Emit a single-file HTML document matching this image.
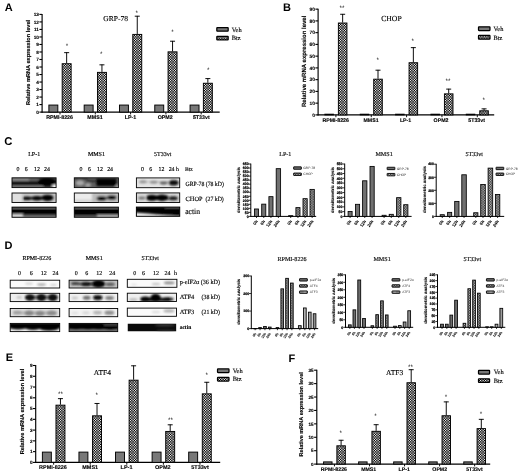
<!DOCTYPE html>
<html lang="en"><head><meta charset="utf-8"><title>Figure</title>
<style>html,body{margin:0;padding:0;background:#fff}svg{display:block}text{text-rendering:geometricPrecision}.ss{font-family:'Liberation Sans', Arial, sans-serif}.sf{font-family:'Liberation Serif', 'Times New Roman', serif;stroke:#000;stroke-width:0.14px}.b{font-weight:bold}</style>
</head><body>
<svg width="520" height="475" viewBox="0 0 520 475">
<defs>
<pattern id="chk" width="5" height="5" patternUnits="userSpaceOnUse"><rect width="5" height="5" fill="#000"/><g fill="#fff"><rect x="0.04" y="0.04" width="1.17" height="1.17"/><rect x="0.04" y="2.54" width="1.17" height="1.17"/><rect x="1.29" y="1.29" width="1.17" height="1.17"/><rect x="1.29" y="3.79" width="1.17" height="1.17"/><rect x="2.54" y="0.04" width="1.17" height="1.17"/><rect x="2.54" y="2.54" width="1.17" height="1.17"/><rect x="3.79" y="1.29" width="1.17" height="1.17"/><rect x="3.79" y="3.79" width="1.17" height="1.17"/></g></pattern>
<pattern id="chk2" width="5" height="5" patternUnits="userSpaceOnUse"><rect width="5" height="5" fill="#000"/><g fill="#fff"><rect x="0" y="0" width="0.83" height="0.83"/><rect x="0" y="1.67" width="0.83" height="0.83"/><rect x="0" y="3.33" width="0.83" height="0.83"/><rect x="0.83" y="0.83" width="0.83" height="0.83"/><rect x="0.83" y="2.5" width="0.83" height="0.83"/><rect x="0.83" y="4.17" width="0.83" height="0.83"/><rect x="1.67" y="0" width="0.83" height="0.83"/><rect x="1.67" y="1.67" width="0.83" height="0.83"/><rect x="1.67" y="3.33" width="0.83" height="0.83"/><rect x="2.5" y="0.83" width="0.83" height="0.83"/><rect x="2.5" y="2.5" width="0.83" height="0.83"/><rect x="2.5" y="4.17" width="0.83" height="0.83"/><rect x="3.33" y="0" width="0.83" height="0.83"/><rect x="3.33" y="1.67" width="0.83" height="0.83"/><rect x="3.33" y="3.33" width="0.83" height="0.83"/><rect x="4.17" y="0.83" width="0.83" height="0.83"/><rect x="4.17" y="2.5" width="0.83" height="0.83"/><rect x="4.17" y="4.17" width="0.83" height="0.83"/></g></pattern>
<pattern id="vl" width="6" height="4" patternUnits="userSpaceOnUse"><rect width="6" height="4" fill="#d8d8d8"/><g fill="#444"><rect x="0" y="0" width="0.5" height="4"/><rect x="1.2" y="0" width="0.5" height="4"/><rect x="2.4" y="0" width="0.5" height="4"/><rect x="3.6" y="0" width="0.5" height="4"/><rect x="4.8" y="0" width="0.5" height="4"/></g></pattern>
<filter id="bl" x="-20%" y="-50%" width="140%" height="200%"><feGaussianBlur stdDeviation="0.9"/></filter>
</defs>
<rect width="520" height="475" fill="#fff"/>
<line x1="42.1" y1="13.9" x2="42.1" y2="112.65" stroke="#000" stroke-width="1.15"/>
<line x1="41.55" y1="112.1" x2="219.7" y2="112.1" stroke="#000" stroke-width="1.15"/>
<line x1="39.4" y1="112.1" x2="42.1" y2="112.1" stroke="#000" stroke-width="1.1"/>
<text class="ss b" x="38.9" y="113.79" font-size="4.7" text-anchor="end" stroke="#000" stroke-width="0.12">0</text>
<line x1="39.4" y1="104.58" x2="42.1" y2="104.58" stroke="#000" stroke-width="1.1"/>
<text class="ss b" x="38.9" y="106.28" font-size="4.7" text-anchor="end" stroke="#000" stroke-width="0.12">1</text>
<line x1="39.4" y1="97.07" x2="42.1" y2="97.07" stroke="#000" stroke-width="1.1"/>
<text class="ss b" x="38.9" y="98.76" font-size="4.7" text-anchor="end" stroke="#000" stroke-width="0.12">2</text>
<line x1="39.4" y1="89.55" x2="42.1" y2="89.55" stroke="#000" stroke-width="1.1"/>
<text class="ss b" x="38.9" y="91.25" font-size="4.7" text-anchor="end" stroke="#000" stroke-width="0.12">3</text>
<line x1="39.4" y1="82.04" x2="42.1" y2="82.04" stroke="#000" stroke-width="1.1"/>
<text class="ss b" x="38.9" y="83.73" font-size="4.7" text-anchor="end" stroke="#000" stroke-width="0.12">4</text>
<line x1="39.4" y1="74.52" x2="42.1" y2="74.52" stroke="#000" stroke-width="1.1"/>
<text class="ss b" x="38.9" y="76.22" font-size="4.7" text-anchor="end" stroke="#000" stroke-width="0.12">5</text>
<line x1="39.4" y1="67.01" x2="42.1" y2="67.01" stroke="#000" stroke-width="1.1"/>
<text class="ss b" x="38.9" y="68.7" font-size="4.7" text-anchor="end" stroke="#000" stroke-width="0.12">6</text>
<line x1="39.4" y1="59.49" x2="42.1" y2="59.49" stroke="#000" stroke-width="1.1"/>
<text class="ss b" x="38.9" y="61.18" font-size="4.7" text-anchor="end" stroke="#000" stroke-width="0.12">7</text>
<line x1="39.4" y1="51.98" x2="42.1" y2="51.98" stroke="#000" stroke-width="1.1"/>
<text class="ss b" x="38.9" y="53.67" font-size="4.7" text-anchor="end" stroke="#000" stroke-width="0.12">8</text>
<line x1="39.4" y1="44.46" x2="42.1" y2="44.46" stroke="#000" stroke-width="1.1"/>
<text class="ss b" x="38.9" y="46.15" font-size="4.7" text-anchor="end" stroke="#000" stroke-width="0.12">9</text>
<line x1="39.4" y1="36.95" x2="42.1" y2="36.95" stroke="#000" stroke-width="1.1"/>
<text class="ss b" x="38.9" y="38.64" font-size="4.7" text-anchor="end" stroke="#000" stroke-width="0.12">10</text>
<line x1="39.4" y1="29.43" x2="42.1" y2="29.43" stroke="#000" stroke-width="1.1"/>
<text class="ss b" x="38.9" y="31.12" font-size="4.7" text-anchor="end" stroke="#000" stroke-width="0.12">11</text>
<line x1="39.4" y1="21.92" x2="42.1" y2="21.92" stroke="#000" stroke-width="1.1"/>
<text class="ss b" x="38.9" y="23.61" font-size="4.7" text-anchor="end" stroke="#000" stroke-width="0.12">12</text>
<line x1="39.4" y1="14.4" x2="42.1" y2="14.4" stroke="#000" stroke-width="1.1"/>
<text class="ss b" x="38.9" y="16.09" font-size="4.7" text-anchor="end" stroke="#000" stroke-width="0.12">13</text>
<text class="ss b" x="29.8" y="62.5" font-size="5.61" text-anchor="middle" transform="rotate(-90 29.8 62.5)" stroke="#000" stroke-width="0.12">Relative mRNA expression level</text>
<rect x="48.88" y="105.06" width="8.95" height="7.04" fill="#787878" stroke="#000" stroke-width="0.95"/>
<rect x="62.18" y="63.73" width="8.95" height="48.37" fill="url(#chk)" stroke="#000" stroke-width="0.95"/>
<line x1="66.65" y1="63.25" x2="66.65" y2="52.35" stroke="#000" stroke-width="0.95"/>
<line x1="64.15" y1="52.65" x2="69.15" y2="52.65" stroke="#000" stroke-width="0.95"/>
<text class="ss" x="66.9" y="48.3" font-size="6.4" text-anchor="middle">*</text>
<line x1="60" y1="112.1" x2="60" y2="114.4" stroke="#000" stroke-width="0.95"/>
<text class="ss b" x="59.6" y="118.9" font-size="5.3" text-anchor="middle" stroke="#000" stroke-width="0.12">RPMI-8226</text>
<rect x="84.17" y="105.06" width="8.95" height="7.04" fill="#787878" stroke="#000" stroke-width="0.95"/>
<rect x="97.47" y="72.37" width="8.95" height="39.73" fill="url(#chk)" stroke="#000" stroke-width="0.95"/>
<line x1="101.95" y1="71.89" x2="101.95" y2="64.53" stroke="#000" stroke-width="0.95"/>
<line x1="99.45" y1="64.83" x2="104.45" y2="64.83" stroke="#000" stroke-width="0.95"/>
<text class="ss" x="101.2" y="56.4" font-size="6.4" text-anchor="middle">*</text>
<line x1="95.3" y1="112.1" x2="95.3" y2="114.4" stroke="#000" stroke-width="0.95"/>
<text class="ss b" x="95" y="118.9" font-size="5.3" text-anchor="middle" stroke="#000" stroke-width="0.12">MMS1</text>
<rect x="119.47" y="105.06" width="8.95" height="7.04" fill="#787878" stroke="#000" stroke-width="0.95"/>
<rect x="132.78" y="34.41" width="8.95" height="77.69" fill="url(#chk)" stroke="#000" stroke-width="0.95"/>
<line x1="137.25" y1="33.94" x2="137.25" y2="15.9" stroke="#000" stroke-width="0.95"/>
<line x1="134.75" y1="16.2" x2="139.75" y2="16.2" stroke="#000" stroke-width="0.95"/>
<text class="ss" x="136.8" y="15" font-size="6.4" text-anchor="middle">*</text>
<line x1="130.6" y1="112.1" x2="130.6" y2="114.4" stroke="#000" stroke-width="0.95"/>
<text class="ss b" x="130.5" y="118.9" font-size="5.3" text-anchor="middle" stroke="#000" stroke-width="0.12">LP-1</text>
<rect x="154.77" y="105.06" width="8.95" height="7.04" fill="#787878" stroke="#000" stroke-width="0.95"/>
<rect x="168.07" y="51.85" width="8.95" height="60.25" fill="url(#chk)" stroke="#000" stroke-width="0.95"/>
<line x1="172.55" y1="51.38" x2="172.55" y2="40.93" stroke="#000" stroke-width="0.95"/>
<line x1="170.05" y1="41.23" x2="175.05" y2="41.23" stroke="#000" stroke-width="0.95"/>
<text class="ss" x="172.4" y="33.9" font-size="6.4" text-anchor="middle">*</text>
<line x1="165.9" y1="112.1" x2="165.9" y2="114.4" stroke="#000" stroke-width="0.95"/>
<text class="ss b" x="165.2" y="118.9" font-size="5.3" text-anchor="middle" stroke="#000" stroke-width="0.12">OPM2</text>
<rect x="190.07" y="105.06" width="8.95" height="7.04" fill="#787878" stroke="#000" stroke-width="0.95"/>
<rect x="203.38" y="83.26" width="8.95" height="28.83" fill="url(#chk)" stroke="#000" stroke-width="0.95"/>
<line x1="207.85" y1="82.79" x2="207.85" y2="78.28" stroke="#000" stroke-width="0.95"/>
<line x1="205.35" y1="78.58" x2="210.35" y2="78.58" stroke="#000" stroke-width="0.95"/>
<text class="ss" x="208.3" y="72.3" font-size="6.4" text-anchor="middle">*</text>
<line x1="201.2" y1="112.1" x2="201.2" y2="114.4" stroke="#000" stroke-width="0.95"/>
<text class="ss b" x="201.3" y="118.9" font-size="5.3" text-anchor="middle" stroke="#000" stroke-width="0.12">5T33vt</text>
<text class="sf" x="103.3" y="21.1" font-size="7.5">GRP-78</text>
<rect x="216.82" y="27.62" width="11.35" height="3.55" fill="#787878" stroke="#000" stroke-width="1.25" rx="0.5"/>
<rect x="216.82" y="36.33" width="11.35" height="3.55" fill="url(#chk)" stroke="#000" stroke-width="1.25" rx="0.5"/>
<text class="sf" x="231.7" y="31.55" font-size="6.4">Veh</text>
<text class="sf" x="231.7" y="40.25" font-size="6.4">Btz</text>
<text class="ss b" x="4.7" y="10.6" font-size="11">A</text>
<line x1="318.1" y1="8.65" x2="318.1" y2="115.45" stroke="#000" stroke-width="1.15"/>
<line x1="317.55" y1="114.9" x2="494.2" y2="114.9" stroke="#000" stroke-width="1.15"/>
<line x1="315.4" y1="114.9" x2="318.1" y2="114.9" stroke="#000" stroke-width="1.1"/>
<text class="ss b" x="314.9" y="116.63" font-size="4.8" text-anchor="end" stroke="#000" stroke-width="0.12">0</text>
<line x1="315.4" y1="103.15" x2="318.1" y2="103.15" stroke="#000" stroke-width="1.1"/>
<text class="ss b" x="314.9" y="104.88" font-size="4.8" text-anchor="end" stroke="#000" stroke-width="0.12">10</text>
<line x1="315.4" y1="91.4" x2="318.1" y2="91.4" stroke="#000" stroke-width="1.1"/>
<text class="ss b" x="314.9" y="93.13" font-size="4.8" text-anchor="end" stroke="#000" stroke-width="0.12">20</text>
<line x1="315.4" y1="79.65" x2="318.1" y2="79.65" stroke="#000" stroke-width="1.1"/>
<text class="ss b" x="314.9" y="81.38" font-size="4.8" text-anchor="end" stroke="#000" stroke-width="0.12">30</text>
<line x1="315.4" y1="67.9" x2="318.1" y2="67.9" stroke="#000" stroke-width="1.1"/>
<text class="ss b" x="314.9" y="69.63" font-size="4.8" text-anchor="end" stroke="#000" stroke-width="0.12">40</text>
<line x1="315.4" y1="56.15" x2="318.1" y2="56.15" stroke="#000" stroke-width="1.1"/>
<text class="ss b" x="314.9" y="57.88" font-size="4.8" text-anchor="end" stroke="#000" stroke-width="0.12">50</text>
<line x1="315.4" y1="44.4" x2="318.1" y2="44.4" stroke="#000" stroke-width="1.1"/>
<text class="ss b" x="314.9" y="46.13" font-size="4.8" text-anchor="end" stroke="#000" stroke-width="0.12">60</text>
<line x1="315.4" y1="32.65" x2="318.1" y2="32.65" stroke="#000" stroke-width="1.1"/>
<text class="ss b" x="314.9" y="34.38" font-size="4.8" text-anchor="end" stroke="#000" stroke-width="0.12">70</text>
<line x1="315.4" y1="20.9" x2="318.1" y2="20.9" stroke="#000" stroke-width="1.1"/>
<text class="ss b" x="314.9" y="22.63" font-size="4.8" text-anchor="end" stroke="#000" stroke-width="0.12">80</text>
<line x1="315.4" y1="9.15" x2="318.1" y2="9.15" stroke="#000" stroke-width="1.1"/>
<text class="ss b" x="314.9" y="10.88" font-size="4.8" text-anchor="end" stroke="#000" stroke-width="0.12">90</text>
<text class="ss b" x="306.4" y="61.3" font-size="6.03" text-anchor="middle" transform="rotate(-90 306.4 61.3)" stroke="#000" stroke-width="0.12">Relative mRNA expression level</text>
<rect x="324.88" y="114.2" width="8.55" height="0.7" fill="#787878" stroke="#000" stroke-width="0.95"/>
<rect x="338.38" y="23.02" width="8.55" height="91.88" fill="url(#chk)" stroke="#000" stroke-width="0.95"/>
<line x1="342.65" y1="22.55" x2="342.65" y2="13.97" stroke="#000" stroke-width="0.95"/>
<line x1="340.15" y1="14.27" x2="345.15" y2="14.27" stroke="#000" stroke-width="0.95"/>
<text class="ss" x="341.9" y="10.3" font-size="6.4" text-anchor="middle">**</text>
<line x1="335.9" y1="114.9" x2="335.9" y2="117.2" stroke="#000" stroke-width="0.95"/>
<text class="ss b" x="335.7" y="122.3" font-size="5.25" text-anchor="middle" stroke="#000" stroke-width="0.12">RPMI-8226</text>
<rect x="360.23" y="114.2" width="8.55" height="0.7" fill="#787878" stroke="#000" stroke-width="0.95"/>
<rect x="373.73" y="79.19" width="8.55" height="35.72" fill="url(#chk)" stroke="#000" stroke-width="0.95"/>
<line x1="378" y1="78.71" x2="378" y2="69.9" stroke="#000" stroke-width="0.95"/>
<line x1="375.5" y1="70.2" x2="380.5" y2="70.2" stroke="#000" stroke-width="0.95"/>
<text class="ss" x="377.7" y="62.2" font-size="6.4" text-anchor="middle">*</text>
<line x1="371.25" y1="114.9" x2="371.25" y2="117.2" stroke="#000" stroke-width="0.95"/>
<text class="ss b" x="371" y="122.3" font-size="5.25" text-anchor="middle" stroke="#000" stroke-width="0.12">MMS1</text>
<rect x="395.57" y="114.2" width="8.55" height="0.7" fill="#787878" stroke="#000" stroke-width="0.95"/>
<rect x="409.07" y="62.74" width="8.55" height="52.16" fill="url(#chk)" stroke="#000" stroke-width="0.95"/>
<line x1="413.35" y1="62.26" x2="413.35" y2="47.34" stroke="#000" stroke-width="0.95"/>
<line x1="410.85" y1="47.64" x2="415.85" y2="47.64" stroke="#000" stroke-width="0.95"/>
<text class="ss" x="412.7" y="43.2" font-size="6.4" text-anchor="middle">*</text>
<line x1="406.6" y1="114.9" x2="406.6" y2="117.2" stroke="#000" stroke-width="0.95"/>
<text class="ss b" x="405.6" y="122.3" font-size="5.25" text-anchor="middle" stroke="#000" stroke-width="0.12">LP-1</text>
<rect x="430.93" y="114.2" width="8.55" height="0.7" fill="#787878" stroke="#000" stroke-width="0.95"/>
<rect x="444.43" y="93.87" width="8.55" height="21.03" fill="url(#chk)" stroke="#000" stroke-width="0.95"/>
<line x1="448.7" y1="93.4" x2="448.7" y2="88.81" stroke="#000" stroke-width="0.95"/>
<line x1="446.2" y1="89.11" x2="451.2" y2="89.11" stroke="#000" stroke-width="0.95"/>
<text class="ss" x="448" y="82.6" font-size="6.4" text-anchor="middle">**</text>
<line x1="441.95" y1="114.9" x2="441.95" y2="117.2" stroke="#000" stroke-width="0.95"/>
<text class="ss b" x="441" y="122.3" font-size="5.25" text-anchor="middle" stroke="#000" stroke-width="0.12">OPM2</text>
<rect x="466.27" y="114.2" width="8.55" height="0.7" fill="#787878" stroke="#000" stroke-width="0.95"/>
<rect x="479.77" y="110.79" width="8.55" height="4.11" fill="url(#chk)" stroke="#000" stroke-width="0.95"/>
<line x1="484.05" y1="110.32" x2="484.05" y2="108.56" stroke="#000" stroke-width="0.95"/>
<line x1="481.55" y1="108.86" x2="486.55" y2="108.86" stroke="#000" stroke-width="0.95"/>
<text class="ss" x="483.8" y="102.1" font-size="6.4" text-anchor="middle">*</text>
<line x1="477.3" y1="114.9" x2="477.3" y2="117.2" stroke="#000" stroke-width="0.95"/>
<text class="ss b" x="476.6" y="122.3" font-size="5.25" text-anchor="middle" stroke="#000" stroke-width="0.12">5T33vt</text>
<text class="sf" x="381.2" y="20.8" font-size="7.7">CHOP</text>
<rect x="478.52" y="26.82" width="11.45" height="3.75" fill="#787878" stroke="#000" stroke-width="1.25" rx="0.5"/>
<rect x="478.52" y="35.42" width="11.45" height="3.75" fill="url(#chk)" stroke="#000" stroke-width="1.25" rx="0.5"/>
<text class="sf" x="493.4" y="30.95" font-size="6.4">Veh</text>
<text class="sf" x="493.4" y="39.55" font-size="6.4">Btz</text>
<text class="ss b" x="283" y="11.4" font-size="11">B</text>
<line x1="35.7" y1="365" x2="35.7" y2="462.95" stroke="#000" stroke-width="1.15"/>
<line x1="35.15" y1="462.4" x2="220.2" y2="462.4" stroke="#000" stroke-width="1.15"/>
<line x1="33" y1="462.4" x2="35.7" y2="462.4" stroke="#000" stroke-width="1.1"/>
<text class="ss b" x="32.5" y="464.09" font-size="4.7" text-anchor="end" stroke="#000" stroke-width="0.12">0</text>
<line x1="33" y1="451.63" x2="35.7" y2="451.63" stroke="#000" stroke-width="1.1"/>
<text class="ss b" x="32.5" y="453.33" font-size="4.7" text-anchor="end" stroke="#000" stroke-width="0.12">1</text>
<line x1="33" y1="440.87" x2="35.7" y2="440.87" stroke="#000" stroke-width="1.1"/>
<text class="ss b" x="32.5" y="442.56" font-size="4.7" text-anchor="end" stroke="#000" stroke-width="0.12">2</text>
<line x1="33" y1="430.1" x2="35.7" y2="430.1" stroke="#000" stroke-width="1.1"/>
<text class="ss b" x="32.5" y="431.79" font-size="4.7" text-anchor="end" stroke="#000" stroke-width="0.12">3</text>
<line x1="33" y1="419.33" x2="35.7" y2="419.33" stroke="#000" stroke-width="1.1"/>
<text class="ss b" x="32.5" y="421.03" font-size="4.7" text-anchor="end" stroke="#000" stroke-width="0.12">4</text>
<line x1="33" y1="408.57" x2="35.7" y2="408.57" stroke="#000" stroke-width="1.1"/>
<text class="ss b" x="32.5" y="410.26" font-size="4.7" text-anchor="end" stroke="#000" stroke-width="0.12">5</text>
<line x1="33" y1="397.8" x2="35.7" y2="397.8" stroke="#000" stroke-width="1.1"/>
<text class="ss b" x="32.5" y="399.49" font-size="4.7" text-anchor="end" stroke="#000" stroke-width="0.12">6</text>
<line x1="33" y1="387.03" x2="35.7" y2="387.03" stroke="#000" stroke-width="1.1"/>
<text class="ss b" x="32.5" y="388.73" font-size="4.7" text-anchor="end" stroke="#000" stroke-width="0.12">7</text>
<line x1="33" y1="376.27" x2="35.7" y2="376.27" stroke="#000" stroke-width="1.1"/>
<text class="ss b" x="32.5" y="377.96" font-size="4.7" text-anchor="end" stroke="#000" stroke-width="0.12">8</text>
<line x1="33" y1="365.5" x2="35.7" y2="365.5" stroke="#000" stroke-width="1.1"/>
<text class="ss b" x="32.5" y="367.19" font-size="4.7" text-anchor="end" stroke="#000" stroke-width="0.12">9</text>
<text class="ss b" x="24.1" y="411.5" font-size="5.63" text-anchor="middle" transform="rotate(-90 24.1 411.5)" stroke="#000" stroke-width="0.12">Relative mRNA expression level</text>
<rect x="42.38" y="452.11" width="8.95" height="10.29" fill="#787878" stroke="#000" stroke-width="0.95"/>
<rect x="55.98" y="405.17" width="8.95" height="57.23" fill="url(#chk)" stroke="#000" stroke-width="0.95"/>
<line x1="60.45" y1="404.69" x2="60.45" y2="398.34" stroke="#000" stroke-width="0.95"/>
<line x1="57.95" y1="398.64" x2="62.95" y2="398.64" stroke="#000" stroke-width="0.95"/>
<text class="ss" x="60.6" y="396.4" font-size="6.4" text-anchor="middle">**</text>
<line x1="53.65" y1="462.4" x2="53.65" y2="464.7" stroke="#000" stroke-width="0.95"/>
<text class="ss b" x="53" y="469.2" font-size="5.5" text-anchor="middle" stroke="#000" stroke-width="0.12">RPMI-8226</text>
<rect x="78.95" y="452.11" width="8.95" height="10.29" fill="#787878" stroke="#000" stroke-width="0.95"/>
<rect x="92.55" y="415.82" width="8.95" height="46.58" fill="url(#chk)" stroke="#000" stroke-width="0.95"/>
<line x1="97.03" y1="415.35" x2="97.03" y2="403.18" stroke="#000" stroke-width="0.95"/>
<line x1="94.53" y1="403.48" x2="99.53" y2="403.48" stroke="#000" stroke-width="0.95"/>
<text class="ss" x="96.8" y="396.7" font-size="6.4" text-anchor="middle">*</text>
<line x1="90.23" y1="462.4" x2="90.23" y2="464.7" stroke="#000" stroke-width="0.95"/>
<text class="ss b" x="90.2" y="469.2" font-size="5.5" text-anchor="middle" stroke="#000" stroke-width="0.12">MMS1</text>
<rect x="115.53" y="452.11" width="8.95" height="10.29" fill="#787878" stroke="#000" stroke-width="0.95"/>
<rect x="129.13" y="380.19" width="8.95" height="82.21" fill="url(#chk)" stroke="#000" stroke-width="0.95"/>
<line x1="133.61" y1="379.71" x2="133.61" y2="365.5" stroke="#000" stroke-width="0.95"/>
<line x1="131.11" y1="365.8" x2="136.11" y2="365.8" stroke="#000" stroke-width="0.95"/>
<line x1="126.81" y1="462.4" x2="126.81" y2="464.7" stroke="#000" stroke-width="0.95"/>
<text class="ss b" x="126.5" y="469.2" font-size="5.5" text-anchor="middle" stroke="#000" stroke-width="0.12">LP-1</text>
<rect x="152.11" y="452.11" width="8.95" height="10.29" fill="#787878" stroke="#000" stroke-width="0.95"/>
<rect x="165.71" y="431.44" width="8.95" height="30.96" fill="url(#chk)" stroke="#000" stroke-width="0.95"/>
<line x1="170.19" y1="430.96" x2="170.19" y2="424.5" stroke="#000" stroke-width="0.95"/>
<line x1="167.69" y1="424.8" x2="172.69" y2="424.8" stroke="#000" stroke-width="0.95"/>
<text class="ss" x="170.4" y="422.3" font-size="6.4" text-anchor="middle">**</text>
<line x1="163.39" y1="462.4" x2="163.39" y2="464.7" stroke="#000" stroke-width="0.95"/>
<text class="ss b" x="162.8" y="469.2" font-size="5.5" text-anchor="middle" stroke="#000" stroke-width="0.12">OPM2</text>
<rect x="188.69" y="452.11" width="8.95" height="10.29" fill="#787878" stroke="#000" stroke-width="0.95"/>
<rect x="202.29" y="393.86" width="8.95" height="68.54" fill="url(#chk)" stroke="#000" stroke-width="0.95"/>
<line x1="206.77" y1="393.39" x2="206.77" y2="381.97" stroke="#000" stroke-width="0.95"/>
<line x1="204.27" y1="382.27" x2="209.27" y2="382.27" stroke="#000" stroke-width="0.95"/>
<text class="ss" x="206.8" y="377.1" font-size="6.4" text-anchor="middle">*</text>
<line x1="199.97" y1="462.4" x2="199.97" y2="464.7" stroke="#000" stroke-width="0.95"/>
<text class="ss b" x="200" y="469.2" font-size="5.5" text-anchor="middle" stroke="#000" stroke-width="0.12">5T33vt</text>
<text class="sf" x="93.8" y="374.6" font-size="7.5">ATF4</text>
<rect x="217.53" y="368.93" width="11.45" height="3.65" fill="#787878" stroke="#000" stroke-width="1.25" rx="0.5"/>
<rect x="217.53" y="377.43" width="11.45" height="3.65" fill="url(#chk)" stroke="#000" stroke-width="1.25" rx="0.5"/>
<text class="sf" x="232.7" y="372.95" font-size="6.4">Veh</text>
<text class="sf" x="232.7" y="381.45" font-size="6.4">Btz</text>
<text class="ss b" x="5.7" y="360.8" font-size="11">E</text>
<line x1="316.8" y1="369.7" x2="316.8" y2="464.65" stroke="#000" stroke-width="1.15"/>
<line x1="316.25" y1="464.1" x2="490.2" y2="464.1" stroke="#000" stroke-width="1.15"/>
<line x1="314.1" y1="464.1" x2="316.8" y2="464.1" stroke="#000" stroke-width="1.1"/>
<text class="ss b" x="313.6" y="465.76" font-size="4.6" text-anchor="end" stroke="#000" stroke-width="0.12">0</text>
<line x1="314.1" y1="450.69" x2="316.8" y2="450.69" stroke="#000" stroke-width="1.1"/>
<text class="ss b" x="313.6" y="452.34" font-size="4.6" text-anchor="end" stroke="#000" stroke-width="0.12">5</text>
<line x1="314.1" y1="437.27" x2="316.8" y2="437.27" stroke="#000" stroke-width="1.1"/>
<text class="ss b" x="313.6" y="438.93" font-size="4.6" text-anchor="end" stroke="#000" stroke-width="0.12">10</text>
<line x1="314.1" y1="423.86" x2="316.8" y2="423.86" stroke="#000" stroke-width="1.1"/>
<text class="ss b" x="313.6" y="425.51" font-size="4.6" text-anchor="end" stroke="#000" stroke-width="0.12">15</text>
<line x1="314.1" y1="410.44" x2="316.8" y2="410.44" stroke="#000" stroke-width="1.1"/>
<text class="ss b" x="313.6" y="412.1" font-size="4.6" text-anchor="end" stroke="#000" stroke-width="0.12">20</text>
<line x1="314.1" y1="397.03" x2="316.8" y2="397.03" stroke="#000" stroke-width="1.1"/>
<text class="ss b" x="313.6" y="398.68" font-size="4.6" text-anchor="end" stroke="#000" stroke-width="0.12">25</text>
<line x1="314.1" y1="383.61" x2="316.8" y2="383.61" stroke="#000" stroke-width="1.1"/>
<text class="ss b" x="313.6" y="385.27" font-size="4.6" text-anchor="end" stroke="#000" stroke-width="0.12">30</text>
<line x1="314.1" y1="370.2" x2="316.8" y2="370.2" stroke="#000" stroke-width="1.1"/>
<text class="ss b" x="313.6" y="371.86" font-size="4.6" text-anchor="end" stroke="#000" stroke-width="0.12">35</text>
<text class="ss b" x="302.9" y="414.3" font-size="5.55" text-anchor="middle" transform="rotate(-90 302.9 414.3)" stroke="#000" stroke-width="0.12">Relative mRNA expression level</text>
<rect x="323.58" y="461.89" width="8.45" height="2.21" fill="#787878" stroke="#000" stroke-width="0.95"/>
<rect x="336.88" y="445.8" width="8.45" height="18.31" fill="url(#chk)" stroke="#000" stroke-width="0.95"/>
<line x1="341.1" y1="445.32" x2="341.1" y2="439.95" stroke="#000" stroke-width="0.95"/>
<line x1="338.6" y1="440.25" x2="343.6" y2="440.25" stroke="#000" stroke-width="0.95"/>
<text class="ss" x="340.8" y="434.8" font-size="6.4" text-anchor="middle">*</text>
<line x1="334.45" y1="464.1" x2="334.45" y2="466.4" stroke="#000" stroke-width="0.95"/>
<text class="ss b" x="333.8" y="470.8" font-size="5.2" text-anchor="middle" stroke="#000" stroke-width="0.12">RPMI-8226</text>
<rect x="358.63" y="461.89" width="8.45" height="2.21" fill="#787878" stroke="#000" stroke-width="0.95"/>
<rect x="371.93" y="431.31" width="8.45" height="32.79" fill="url(#chk)" stroke="#000" stroke-width="0.95"/>
<line x1="376.15" y1="430.83" x2="376.15" y2="424.39" stroke="#000" stroke-width="0.95"/>
<line x1="373.65" y1="424.69" x2="378.65" y2="424.69" stroke="#000" stroke-width="0.95"/>
<text class="ss" x="375.6" y="418.3" font-size="6.4" text-anchor="middle">*</text>
<line x1="369.5" y1="464.1" x2="369.5" y2="466.4" stroke="#000" stroke-width="0.95"/>
<text class="ss b" x="368.7" y="470.8" font-size="5.2" text-anchor="middle" stroke="#000" stroke-width="0.12">MMS1</text>
<rect x="393.68" y="461.89" width="8.45" height="2.21" fill="#787878" stroke="#000" stroke-width="0.95"/>
<rect x="406.98" y="382.75" width="8.45" height="81.35" fill="url(#chk)" stroke="#000" stroke-width="0.95"/>
<line x1="411.2" y1="382.27" x2="411.2" y2="369.4" stroke="#000" stroke-width="0.95"/>
<line x1="408.7" y1="369.7" x2="413.7" y2="369.7" stroke="#000" stroke-width="0.95"/>
<text class="ss" x="410.6" y="368.6" font-size="6.4" text-anchor="middle">**</text>
<line x1="404.55" y1="464.1" x2="404.55" y2="466.4" stroke="#000" stroke-width="0.95"/>
<text class="ss b" x="404.2" y="470.8" font-size="5.2" text-anchor="middle" stroke="#000" stroke-width="0.12">LP-1</text>
<rect x="428.73" y="461.89" width="8.45" height="2.21" fill="#787878" stroke="#000" stroke-width="0.95"/>
<rect x="442.03" y="415.75" width="8.45" height="48.35" fill="url(#chk)" stroke="#000" stroke-width="0.95"/>
<line x1="446.25" y1="415.27" x2="446.25" y2="401.59" stroke="#000" stroke-width="0.95"/>
<line x1="443.75" y1="401.89" x2="448.75" y2="401.89" stroke="#000" stroke-width="0.95"/>
<text class="ss" x="446" y="399" font-size="6.4" text-anchor="middle">*</text>
<line x1="439.6" y1="464.1" x2="439.6" y2="466.4" stroke="#000" stroke-width="0.95"/>
<text class="ss b" x="439.7" y="470.8" font-size="5.2" text-anchor="middle" stroke="#000" stroke-width="0.12">OPM2</text>
<rect x="463.78" y="461.89" width="8.45" height="2.21" fill="#787878" stroke="#000" stroke-width="0.95"/>
<rect x="477.08" y="428.62" width="8.45" height="35.48" fill="url(#chk)" stroke="#000" stroke-width="0.95"/>
<line x1="481.3" y1="428.15" x2="481.3" y2="419.03" stroke="#000" stroke-width="0.95"/>
<line x1="478.8" y1="419.33" x2="483.8" y2="419.33" stroke="#000" stroke-width="0.95"/>
<text class="ss" x="481" y="415.5" font-size="6.4" text-anchor="middle">*</text>
<line x1="474.65" y1="464.1" x2="474.65" y2="466.4" stroke="#000" stroke-width="0.95"/>
<text class="ss b" x="474.4" y="470.8" font-size="5.2" text-anchor="middle" stroke="#000" stroke-width="0.12">5T33vt</text>
<text class="sf" x="386.1" y="374.6" font-size="7.5">ATF3</text>
<rect x="478.52" y="370.43" width="11.05" height="3.65" fill="#787878" stroke="#000" stroke-width="1.25" rx="0.5"/>
<rect x="478.52" y="378.82" width="11.05" height="3.65" fill="url(#chk)" stroke="#000" stroke-width="1.25" rx="0.5"/>
<text class="sf" x="493.7" y="374.45" font-size="6.4">Veh</text>
<text class="sf" x="493.7" y="382.85" font-size="6.4">Btz</text>
<text class="ss b" x="288.6" y="361.5" font-size="11">F</text>
<text class="ss b" x="4.2" y="145.1" font-size="11.3">C</text>
<text class="sf" x="34.2" y="156" font-size="6" text-anchor="middle">LP-1</text>
<text class="sf" x="96.4" y="156" font-size="6" text-anchor="middle">MMS1</text>
<text class="sf" x="162.8" y="156.1" font-size="6.05" text-anchor="middle">5T33vt</text>
<text class="sf" x="18" y="171.3" font-size="5.9" text-anchor="middle">0</text>
<text class="sf" x="26.3" y="171.3" font-size="5.9" text-anchor="middle">6</text>
<text class="sf" x="36.9" y="171.3" font-size="5.9" text-anchor="middle">12</text>
<text class="sf" x="47" y="171.3" font-size="5.9" text-anchor="middle">24</text>
<text class="sf" x="81.1" y="171.3" font-size="5.9" text-anchor="middle">0</text>
<text class="sf" x="89.4" y="171.3" font-size="5.9" text-anchor="middle">6</text>
<text class="sf" x="100" y="171.3" font-size="5.9" text-anchor="middle">12</text>
<text class="sf" x="110.1" y="171.3" font-size="5.9" text-anchor="middle">24</text>
<text class="sf" x="142.4" y="171.3" font-size="5.9" text-anchor="middle">0</text>
<text class="sf" x="150.7" y="171.3" font-size="5.9" text-anchor="middle">6</text>
<text class="sf" x="161.5" y="171.3" font-size="5.9" text-anchor="middle">12</text>
<text class="sf" x="173.8" y="171.3" font-size="5.9" text-anchor="middle">24 h</text>
<text class="sf" x="185" y="171.3" font-size="5.7">Btz</text>
<text class="sf" x="185.5" y="186" font-size="6.4" textLength="38.3" lengthAdjust="spacingAndGlyphs">GRP-78 (78 kD)</text>
<text class="sf" x="185.5" y="200.5" font-size="6.4">CHOP</text>
<text class="sf" x="205.6" y="200.5" font-size="6.4" textLength="18.2" lengthAdjust="spacingAndGlyphs">(27 kD)</text>
<text class="sf" x="185.2" y="213.9" font-size="8.2" textLength="14.9" lengthAdjust="spacingAndGlyphs">actin</text>
<clipPath id="c1"><rect x="12" y="177.8" width="44.1" height="9.8"/></clipPath>
<g clip-path="url(#c1)">
<rect x="12" y="177.8" width="44.1" height="9.8" fill="#454545"/>
<g filter="url(#bl)">
<rect x="11" y="178.2" width="18" height="2" fill="#a8a8a8" opacity="1"/>
<rect x="29" y="178.2" width="9" height="1.4" fill="#808080" opacity="0.9"/>
<rect x="11" y="181.6" width="46" height="3.4" fill="#0c0c0c" opacity="1"/>
<ellipse cx="47" cy="182" rx="9" ry="4.2" fill="#000" opacity="1"/>
<rect x="11" y="186" width="32" height="1.8" fill="#858585" opacity="1"/>
<ellipse cx="55.3" cy="186.8" rx="3.2" ry="2.2" fill="#fff" opacity="1"/>
</g></g>
<rect x="12" y="177.8" width="44.1" height="9.8" fill="none" stroke="#000" stroke-width="0.9"/>
<clipPath id="c2"><rect x="12" y="193" width="44.1" height="9.5"/></clipPath>
<g clip-path="url(#c2)">
<rect x="12" y="193" width="44.1" height="9.5" fill="#c6c6c6"/>
<g filter="url(#bl)">
<rect x="11" y="192" width="11" height="11" fill="#e0e0e0" opacity="1"/>
<ellipse cx="27" cy="198.2" rx="4.6" ry="1.8" fill="#0a0a0a" opacity="1"/>
<ellipse cx="37" cy="198.3" rx="5" ry="2.2" fill="#000" opacity="1"/>
<ellipse cx="47.5" cy="197.8" rx="6" ry="3.1" fill="#000" opacity="1"/>
<rect x="24" y="197" width="25" height="2.2" fill="#000" opacity="0.9"/>
</g></g>
<rect x="12" y="193" width="44.1" height="9.5" fill="none" stroke="#000" stroke-width="0.9"/>
<clipPath id="c3"><rect x="12" y="207.1" width="44.1" height="10.2"/></clipPath>
<g clip-path="url(#c3)">
<rect x="12" y="207.1" width="44.1" height="10.2" fill="#080808"/>
<g filter="url(#bl)">
<rect x="11" y="207.3" width="46" height="0.6" fill="#eee" opacity="0.9"/>
<rect x="11" y="214.4" width="12" height="3.2" fill="#f4f4f4" opacity="1"/>
<rect x="23" y="215.8" width="34" height="1.8" fill="#d0d0d0" opacity="1"/>
<rect x="11" y="208.6" width="46" height="5.2" fill="#000" opacity="1"/>
</g></g>
<rect x="12" y="207.1" width="44.1" height="10.2" fill="none" stroke="#000" stroke-width="0.9"/>
<clipPath id="c4"><rect x="74.3" y="177.8" width="44.1" height="9.8"/></clipPath>
<g clip-path="url(#c4)">
<rect x="74.3" y="177.8" width="44.1" height="9.8" fill="#5e5e5e"/>
<g filter="url(#bl)">
<ellipse cx="80" cy="183" rx="4.2" ry="2.8" fill="#a8a8a8" opacity="1"/>
<ellipse cx="88" cy="185" rx="3" ry="1.8" fill="#b4b4b4" opacity="0.9"/>
<rect x="74" y="178" width="14" height="1.6" fill="#2a2a2a" opacity="1"/>
<rect x="87" y="180.2" width="10" height="2" fill="#222" opacity="0.9"/>
<rect x="96.5" y="178.5" width="20" height="7.5" fill="#050505" opacity="1"/>
<ellipse cx="117.6" cy="186.6" rx="2.2" ry="1.6" fill="#aaa" opacity="1"/>
</g></g>
<rect x="74.3" y="177.8" width="44.1" height="9.8" fill="none" stroke="#000" stroke-width="0.9"/>
<clipPath id="c5"><rect x="74.3" y="193" width="44.1" height="9.5"/></clipPath>
<g clip-path="url(#c5)">
<rect x="74.3" y="193" width="44.1" height="9.5" fill="#ececec"/>
<g filter="url(#bl)">
<rect x="92" y="193" width="27" height="10" fill="#bebebe" opacity="1"/>
<ellipse cx="101.6" cy="198.6" rx="5" ry="2.3" fill="#000" opacity="1"/>
<ellipse cx="111.8" cy="197.6" rx="4.8" ry="2.3" fill="#000" opacity="1"/>
<rect x="98" y="197.4" width="16" height="1.6" fill="#000" opacity="0.7"/>
<rect x="74" y="200" width="22" height="1.6" fill="#bbb" opacity="0.8"/>
</g></g>
<rect x="74.3" y="193" width="44.1" height="9.5" fill="none" stroke="#000" stroke-width="0.9"/>
<clipPath id="c6"><rect x="74.3" y="207.1" width="44.1" height="10.2"/></clipPath>
<g clip-path="url(#c6)">
<rect x="74.3" y="207.1" width="44.1" height="10.2" fill="#080808"/>
<g filter="url(#bl)">
<rect x="74" y="207.3" width="46" height="0.6" fill="#eee" opacity="0.9"/>
<rect x="74" y="208.6" width="46" height="5.4" fill="#000" opacity="1"/>
<rect x="97" y="215.2" width="22" height="2.4" fill="#f0f0f0" opacity="1"/>
<rect x="74" y="216" width="23" height="1.6" fill="#aaa" opacity="1"/>
</g></g>
<rect x="74.3" y="207.1" width="44.1" height="10.2" fill="none" stroke="#000" stroke-width="0.9"/>
<clipPath id="c7"><rect x="136.4" y="177.9" width="43.3" height="9.8"/></clipPath>
<g clip-path="url(#c7)">
<rect x="136.4" y="177.9" width="43.3" height="9.8" fill="#e4e4e4"/>
<g filter="url(#bl)">
<ellipse cx="143" cy="181.8" rx="3.8" ry="1.5" fill="#8c8c8c" opacity="1"/>
<ellipse cx="153.8" cy="182.2" rx="3.9" ry="1.4" fill="#808080" opacity="1"/>
<ellipse cx="163.7" cy="183" rx="4" ry="1.4" fill="#444" opacity="1"/>
<ellipse cx="173.6" cy="182.8" rx="5" ry="2.8" fill="#080808" opacity="1"/>
<rect x="140" y="181.2" width="30" height="1.4" fill="#999" opacity="0.5"/>
</g></g>
<rect x="136.4" y="177.9" width="43.3" height="9.8" fill="none" stroke="#000" stroke-width="0.9"/>
<clipPath id="c8"><rect x="136.4" y="192.9" width="43.3" height="9.6"/></clipPath>
<g clip-path="url(#c8)">
<rect x="136.4" y="192.9" width="43.3" height="9.6" fill="#d8d8d8"/>
<g filter="url(#bl)">
<ellipse cx="141.8" cy="198" rx="3.6" ry="1.3" fill="#666" opacity="1"/>
<ellipse cx="152" cy="197.8" rx="5.6" ry="3" fill="#000" opacity="1"/>
<ellipse cx="162" cy="197.8" rx="5.8" ry="3.2" fill="#000" opacity="1"/>
<ellipse cx="173.2" cy="198.3" rx="4.6" ry="2" fill="#181818" opacity="1"/>
<rect x="147" y="195.6" width="21" height="4.4" fill="#000" opacity="1"/>
</g></g>
<rect x="136.4" y="192.9" width="43.3" height="9.6" fill="none" stroke="#000" stroke-width="0.9"/>
<clipPath id="c9"><rect x="136.4" y="207.1" width="43.3" height="9.2"/></clipPath>
<g clip-path="url(#c9)">
<rect x="136.4" y="207.1" width="43.3" height="9.2" fill="#f2f2f2"/>
<g filter="url(#bl)">
<polygon points="135,206.5 181,206.5 181,216.5 170,215.6 158,214.6 148,213.4 135,212.4" fill="#000" opacity="1"/>
<rect x="165" y="207.2" width="16" height="1" fill="#888" opacity="0.8"/>
<ellipse cx="170" cy="216.6" rx="12" ry="1" fill="#999" opacity="0.8"/>
</g></g>
<rect x="136.4" y="207.1" width="43.3" height="9.2" fill="none" stroke="#000" stroke-width="1"/>
<line x1="250.8" y1="163.6" x2="250.8" y2="216.9" stroke="#000" stroke-width="1"/>
<line x1="250.4" y1="216.4" x2="316.2" y2="216.4" stroke="#000" stroke-width="1"/>
<line x1="248.6" y1="216.4" x2="250.8" y2="216.4" stroke="#000" stroke-width="0.8"/>
<text class="ss b" x="248.6" y="217.65" font-size="3.5" text-anchor="end" stroke="#000" stroke-width="0.22">0</text>
<line x1="248.6" y1="212.37" x2="250.8" y2="212.37" stroke="#000" stroke-width="0.8"/>
<text class="ss b" x="248.6" y="213.62" font-size="3.5" text-anchor="end" stroke="#000" stroke-width="0.22">50</text>
<line x1="248.6" y1="208.34" x2="250.8" y2="208.34" stroke="#000" stroke-width="0.8"/>
<text class="ss b" x="248.6" y="209.59" font-size="3.5" text-anchor="end" stroke="#000" stroke-width="0.22">100</text>
<line x1="248.6" y1="204.31" x2="250.8" y2="204.31" stroke="#000" stroke-width="0.8"/>
<text class="ss b" x="248.6" y="205.56" font-size="3.5" text-anchor="end" stroke="#000" stroke-width="0.22">150</text>
<line x1="248.6" y1="200.28" x2="250.8" y2="200.28" stroke="#000" stroke-width="0.8"/>
<text class="ss b" x="248.6" y="201.53" font-size="3.5" text-anchor="end" stroke="#000" stroke-width="0.22">200</text>
<line x1="248.6" y1="196.25" x2="250.8" y2="196.25" stroke="#000" stroke-width="0.8"/>
<text class="ss b" x="248.6" y="197.5" font-size="3.5" text-anchor="end" stroke="#000" stroke-width="0.22">250</text>
<line x1="248.6" y1="192.22" x2="250.8" y2="192.22" stroke="#000" stroke-width="0.8"/>
<text class="ss b" x="248.6" y="193.47" font-size="3.5" text-anchor="end" stroke="#000" stroke-width="0.22">300</text>
<line x1="248.6" y1="188.18" x2="250.8" y2="188.18" stroke="#000" stroke-width="0.8"/>
<text class="ss b" x="248.6" y="189.43" font-size="3.5" text-anchor="end" stroke="#000" stroke-width="0.22">350</text>
<line x1="248.6" y1="184.15" x2="250.8" y2="184.15" stroke="#000" stroke-width="0.8"/>
<text class="ss b" x="248.6" y="185.4" font-size="3.5" text-anchor="end" stroke="#000" stroke-width="0.22">400</text>
<line x1="248.6" y1="180.12" x2="250.8" y2="180.12" stroke="#000" stroke-width="0.8"/>
<text class="ss b" x="248.6" y="181.37" font-size="3.5" text-anchor="end" stroke="#000" stroke-width="0.22">450</text>
<line x1="248.6" y1="176.09" x2="250.8" y2="176.09" stroke="#000" stroke-width="0.8"/>
<text class="ss b" x="248.6" y="177.34" font-size="3.5" text-anchor="end" stroke="#000" stroke-width="0.22">500</text>
<line x1="248.6" y1="172.06" x2="250.8" y2="172.06" stroke="#000" stroke-width="0.8"/>
<text class="ss b" x="248.6" y="173.31" font-size="3.5" text-anchor="end" stroke="#000" stroke-width="0.22">550</text>
<line x1="248.6" y1="168.03" x2="250.8" y2="168.03" stroke="#000" stroke-width="0.8"/>
<text class="ss b" x="248.6" y="169.28" font-size="3.5" text-anchor="end" stroke="#000" stroke-width="0.22">600</text>
<line x1="248.6" y1="164" x2="250.8" y2="164" stroke="#000" stroke-width="0.8"/>
<text class="ss b" x="248.6" y="165.25" font-size="3.5" text-anchor="end" stroke="#000" stroke-width="0.22">650</text>
<text class="ss b" x="239.7" y="190" font-size="4.3" text-anchor="middle" transform="rotate(-90 239.7 190)" textLength="46" lengthAdjust="spacingAndGlyphs" stroke="#000" stroke-width="0.08">densitometric analysis</text>
<rect x="254.5" y="208.98" width="4" height="7.42" fill="#707070" stroke="#000" stroke-width="0.85"/>
<line x1="256.5" y1="216.4" x2="256.5" y2="218" stroke="#000" stroke-width="0.8"/>
<text class="ss b" x="258" y="221.4" font-size="4.2" text-anchor="end" transform="rotate(-55 258 221.4)" stroke="#000" stroke-width="0.08">0h</text>
<rect x="261.7" y="204.14" width="4.1" height="12.26" fill="#707070" stroke="#000" stroke-width="0.85"/>
<line x1="263.75" y1="216.4" x2="263.75" y2="218" stroke="#000" stroke-width="0.8"/>
<text class="ss b" x="265.25" y="221.4" font-size="4.2" text-anchor="end" transform="rotate(-55 265.25 221.4)" stroke="#000" stroke-width="0.08">6h</text>
<rect x="268.9" y="196.65" width="4.1" height="19.75" fill="#707070" stroke="#000" stroke-width="0.85"/>
<line x1="270.95" y1="216.4" x2="270.95" y2="218" stroke="#000" stroke-width="0.8"/>
<text class="ss b" x="272.45" y="221.4" font-size="4.2" text-anchor="end" transform="rotate(-55 272.45 221.4)" stroke="#000" stroke-width="0.08">12h</text>
<rect x="276.2" y="168.67" width="4.4" height="47.73" fill="#707070" stroke="#000" stroke-width="0.85"/>
<line x1="278.4" y1="216.4" x2="278.4" y2="218" stroke="#000" stroke-width="0.8"/>
<text class="ss b" x="279.9" y="221.4" font-size="4.2" text-anchor="end" transform="rotate(-55 279.9 221.4)" stroke="#000" stroke-width="0.08">24h</text>
<rect x="288.6" y="215.67" width="4.2" height="0.73" fill="url(#chk2)" stroke="#000" stroke-width="0.85"/>
<line x1="290.7" y1="216.4" x2="290.7" y2="218" stroke="#000" stroke-width="0.8"/>
<text class="ss b" x="292.2" y="221.4" font-size="4.2" text-anchor="end" transform="rotate(-55 292.2 221.4)" stroke="#000" stroke-width="0.08">0h</text>
<rect x="295.9" y="207.61" width="4.1" height="8.79" fill="url(#chk2)" stroke="#000" stroke-width="0.85"/>
<line x1="297.95" y1="216.4" x2="297.95" y2="218" stroke="#000" stroke-width="0.8"/>
<text class="ss b" x="299.45" y="221.4" font-size="4.2" text-anchor="end" transform="rotate(-55 299.45 221.4)" stroke="#000" stroke-width="0.08">6h</text>
<rect x="303" y="198.66" width="4.2" height="17.74" fill="url(#chk2)" stroke="#000" stroke-width="0.85"/>
<line x1="305.1" y1="216.4" x2="305.1" y2="218" stroke="#000" stroke-width="0.8"/>
<text class="ss b" x="306.6" y="221.4" font-size="4.2" text-anchor="end" transform="rotate(-55 306.6 221.4)" stroke="#000" stroke-width="0.08">12h</text>
<rect x="310" y="189.39" width="4.3" height="27.01" fill="url(#chk2)" stroke="#000" stroke-width="0.85"/>
<line x1="312.15" y1="216.4" x2="312.15" y2="218" stroke="#000" stroke-width="0.8"/>
<text class="ss b" x="313.65" y="221.4" font-size="4.2" text-anchor="end" transform="rotate(-55 313.65 221.4)" stroke="#000" stroke-width="0.08">24h</text>
<text class="sf" x="285.3" y="156" font-size="6.1" text-anchor="middle">LP-1</text>
<rect x="293.65" y="166.85" width="7.7" height="2.4" fill="#707070" stroke="#000" stroke-width="0.9" rx="0.25"/>
<text class="ss" x="303.3" y="169.1" font-size="3.3" fill="#333">GRP-78</text>
<rect x="293.65" y="173.05" width="7.7" height="2.4" fill="url(#chk2)" stroke="#000" stroke-width="0.9" rx="0.25"/>
<text class="ss" x="303.3" y="175.3" font-size="3.3" fill="#333">CHOP</text>
<line x1="344.7" y1="163.6" x2="344.7" y2="216.9" stroke="#000" stroke-width="1"/>
<line x1="344.3" y1="216.4" x2="411.6" y2="216.4" stroke="#000" stroke-width="1"/>
<line x1="342.5" y1="216.4" x2="344.7" y2="216.4" stroke="#000" stroke-width="0.8"/>
<text class="ss b" x="342.5" y="217.65" font-size="3.5" text-anchor="end" stroke="#000" stroke-width="0.22">0</text>
<line x1="342.5" y1="211.64" x2="344.7" y2="211.64" stroke="#000" stroke-width="0.8"/>
<text class="ss b" x="342.5" y="212.89" font-size="3.5" text-anchor="end" stroke="#000" stroke-width="0.22">50</text>
<line x1="342.5" y1="206.87" x2="344.7" y2="206.87" stroke="#000" stroke-width="0.8"/>
<text class="ss b" x="342.5" y="208.12" font-size="3.5" text-anchor="end" stroke="#000" stroke-width="0.22">100</text>
<line x1="342.5" y1="202.11" x2="344.7" y2="202.11" stroke="#000" stroke-width="0.8"/>
<text class="ss b" x="342.5" y="203.36" font-size="3.5" text-anchor="end" stroke="#000" stroke-width="0.22">150</text>
<line x1="342.5" y1="197.35" x2="344.7" y2="197.35" stroke="#000" stroke-width="0.8"/>
<text class="ss b" x="342.5" y="198.6" font-size="3.5" text-anchor="end" stroke="#000" stroke-width="0.22">200</text>
<line x1="342.5" y1="192.58" x2="344.7" y2="192.58" stroke="#000" stroke-width="0.8"/>
<text class="ss b" x="342.5" y="193.83" font-size="3.5" text-anchor="end" stroke="#000" stroke-width="0.22">250</text>
<line x1="342.5" y1="187.82" x2="344.7" y2="187.82" stroke="#000" stroke-width="0.8"/>
<text class="ss b" x="342.5" y="189.07" font-size="3.5" text-anchor="end" stroke="#000" stroke-width="0.22">300</text>
<line x1="342.5" y1="183.05" x2="344.7" y2="183.05" stroke="#000" stroke-width="0.8"/>
<text class="ss b" x="342.5" y="184.3" font-size="3.5" text-anchor="end" stroke="#000" stroke-width="0.22">350</text>
<line x1="342.5" y1="178.29" x2="344.7" y2="178.29" stroke="#000" stroke-width="0.8"/>
<text class="ss b" x="342.5" y="179.54" font-size="3.5" text-anchor="end" stroke="#000" stroke-width="0.22">400</text>
<line x1="342.5" y1="173.53" x2="344.7" y2="173.53" stroke="#000" stroke-width="0.8"/>
<text class="ss b" x="342.5" y="174.78" font-size="3.5" text-anchor="end" stroke="#000" stroke-width="0.22">450</text>
<line x1="342.5" y1="168.76" x2="344.7" y2="168.76" stroke="#000" stroke-width="0.8"/>
<text class="ss b" x="342.5" y="170.01" font-size="3.5" text-anchor="end" stroke="#000" stroke-width="0.22">500</text>
<line x1="342.5" y1="164" x2="344.7" y2="164" stroke="#000" stroke-width="0.8"/>
<text class="ss b" x="342.5" y="165.25" font-size="3.5" text-anchor="end" stroke="#000" stroke-width="0.22">550</text>
<text class="ss b" x="333.7" y="190" font-size="4.3" text-anchor="middle" transform="rotate(-90 333.7 190)" textLength="46" lengthAdjust="spacingAndGlyphs" stroke="#000" stroke-width="0.08">densitometric analysis</text>
<rect x="348.1" y="211.46" width="4" height="4.94" fill="#707070" stroke="#000" stroke-width="0.85"/>
<line x1="350.1" y1="216.4" x2="350.1" y2="218" stroke="#000" stroke-width="0.8"/>
<text class="ss b" x="351.6" y="221.4" font-size="4.2" text-anchor="end" transform="rotate(-55 351.6 221.4)" stroke="#000" stroke-width="0.08">0h</text>
<rect x="355.5" y="204.32" width="4.1" height="12.08" fill="#707070" stroke="#000" stroke-width="0.85"/>
<line x1="357.55" y1="216.4" x2="357.55" y2="218" stroke="#000" stroke-width="0.8"/>
<text class="ss b" x="359.05" y="221.4" font-size="4.2" text-anchor="end" transform="rotate(-55 359.05 221.4)" stroke="#000" stroke-width="0.08">6h</text>
<rect x="362.6" y="180.79" width="4.3" height="35.61" fill="#707070" stroke="#000" stroke-width="0.85"/>
<line x1="364.75" y1="216.4" x2="364.75" y2="218" stroke="#000" stroke-width="0.8"/>
<text class="ss b" x="366.25" y="221.4" font-size="4.2" text-anchor="end" transform="rotate(-55 366.25 221.4)" stroke="#000" stroke-width="0.08">12h</text>
<rect x="370" y="166.4" width="4.2" height="50" fill="#707070" stroke="#000" stroke-width="0.85"/>
<line x1="372.1" y1="216.4" x2="372.1" y2="218" stroke="#000" stroke-width="0.8"/>
<text class="ss b" x="373.6" y="221.4" font-size="4.2" text-anchor="end" transform="rotate(-55 373.6 221.4)" stroke="#000" stroke-width="0.08">24h</text>
<rect x="382.1" y="215.28" width="4" height="1.12" fill="url(#chk2)" stroke="#000" stroke-width="0.85"/>
<line x1="384.1" y1="216.4" x2="384.1" y2="218" stroke="#000" stroke-width="0.8"/>
<text class="ss b" x="385.6" y="221.4" font-size="4.2" text-anchor="end" transform="rotate(-55 385.6 221.4)" stroke="#000" stroke-width="0.08">0h</text>
<rect x="389.2" y="214.32" width="4.1" height="2.08" fill="url(#chk2)" stroke="#000" stroke-width="0.85"/>
<line x1="391.25" y1="216.4" x2="391.25" y2="218" stroke="#000" stroke-width="0.8"/>
<text class="ss b" x="392.75" y="221.4" font-size="4.2" text-anchor="end" transform="rotate(-55 392.75 221.4)" stroke="#000" stroke-width="0.08">6h</text>
<rect x="396.6" y="197.65" width="4.3" height="18.75" fill="url(#chk2)" stroke="#000" stroke-width="0.85"/>
<line x1="398.75" y1="216.4" x2="398.75" y2="218" stroke="#000" stroke-width="0.8"/>
<text class="ss b" x="400.25" y="221.4" font-size="4.2" text-anchor="end" transform="rotate(-55 400.25 221.4)" stroke="#000" stroke-width="0.08">12h</text>
<rect x="403.7" y="204.7" width="4.2" height="11.7" fill="url(#chk2)" stroke="#000" stroke-width="0.85"/>
<line x1="405.8" y1="216.4" x2="405.8" y2="218" stroke="#000" stroke-width="0.8"/>
<text class="ss b" x="407.3" y="221.4" font-size="4.2" text-anchor="end" transform="rotate(-55 407.3 221.4)" stroke="#000" stroke-width="0.08">24h</text>
<text class="sf" x="384.1" y="156.2" font-size="6.1" text-anchor="middle">MMS1</text>
<rect x="387.15" y="167.25" width="7.7" height="2.4" fill="#707070" stroke="#000" stroke-width="0.9" rx="0.25"/>
<text class="ss" x="396.8" y="169.5" font-size="3.3" fill="#333">GRP-78</text>
<rect x="387.15" y="173.45" width="7.7" height="2.4" fill="url(#chk2)" stroke="#000" stroke-width="0.9" rx="0.25"/>
<text class="ss" x="396.8" y="175.7" font-size="3.3" fill="#333">CHOP</text>
<line x1="436.2" y1="163.8" x2="436.2" y2="216.9" stroke="#000" stroke-width="1"/>
<line x1="435.8" y1="216.4" x2="504.2" y2="216.4" stroke="#000" stroke-width="1"/>
<line x1="434" y1="216.4" x2="436.2" y2="216.4" stroke="#000" stroke-width="0.8"/>
<text class="ss b" x="434" y="217.65" font-size="3.5" text-anchor="end" stroke="#000" stroke-width="0.22">0</text>
<line x1="434" y1="203.35" x2="436.2" y2="203.35" stroke="#000" stroke-width="0.8"/>
<text class="ss b" x="434" y="204.6" font-size="3.5" text-anchor="end" stroke="#000" stroke-width="0.22">100</text>
<line x1="434" y1="190.3" x2="436.2" y2="190.3" stroke="#000" stroke-width="0.8"/>
<text class="ss b" x="434" y="191.55" font-size="3.5" text-anchor="end" stroke="#000" stroke-width="0.22">200</text>
<line x1="434" y1="177.25" x2="436.2" y2="177.25" stroke="#000" stroke-width="0.8"/>
<text class="ss b" x="434" y="178.5" font-size="3.5" text-anchor="end" stroke="#000" stroke-width="0.22">300</text>
<line x1="434" y1="164.2" x2="436.2" y2="164.2" stroke="#000" stroke-width="0.8"/>
<text class="ss b" x="434" y="165.45" font-size="3.5" text-anchor="end" stroke="#000" stroke-width="0.22">400</text>
<text class="ss b" x="425.5" y="189.5" font-size="4.3" text-anchor="middle" transform="rotate(-90 425.5 189.5)" textLength="47" lengthAdjust="spacingAndGlyphs" stroke="#000" stroke-width="0.08">densitometric analysis</text>
<rect x="440.2" y="214.71" width="4.1" height="1.69" fill="#707070" stroke="#000" stroke-width="0.85"/>
<line x1="442.25" y1="216.4" x2="442.25" y2="218" stroke="#000" stroke-width="0.8"/>
<text class="ss b" x="443.75" y="221.4" font-size="4.2" text-anchor="end" transform="rotate(-55 443.75 221.4)" stroke="#000" stroke-width="0.08">0h</text>
<rect x="447.6" y="212.36" width="4.1" height="4.04" fill="#707070" stroke="#000" stroke-width="0.85"/>
<line x1="449.65" y1="216.4" x2="449.65" y2="218" stroke="#000" stroke-width="0.8"/>
<text class="ss b" x="451.15" y="221.4" font-size="4.2" text-anchor="end" transform="rotate(-55 451.15 221.4)" stroke="#000" stroke-width="0.08">6h</text>
<rect x="454.7" y="201.4" width="4.3" height="15" fill="#707070" stroke="#000" stroke-width="0.85"/>
<line x1="456.85" y1="216.4" x2="456.85" y2="218" stroke="#000" stroke-width="0.8"/>
<text class="ss b" x="458.35" y="221.4" font-size="4.2" text-anchor="end" transform="rotate(-55 458.35 221.4)" stroke="#000" stroke-width="0.08">12h</text>
<rect x="461.8" y="174.78" width="4.5" height="41.62" fill="#707070" stroke="#000" stroke-width="0.85"/>
<line x1="464.05" y1="216.4" x2="464.05" y2="218" stroke="#000" stroke-width="0.8"/>
<text class="ss b" x="465.55" y="221.4" font-size="4.2" text-anchor="end" transform="rotate(-55 465.55 221.4)" stroke="#000" stroke-width="0.08">24h</text>
<rect x="473.7" y="212.75" width="4.2" height="3.65" fill="url(#chk2)" stroke="#000" stroke-width="0.85"/>
<line x1="475.8" y1="216.4" x2="475.8" y2="218" stroke="#000" stroke-width="0.8"/>
<text class="ss b" x="477.3" y="221.4" font-size="4.2" text-anchor="end" transform="rotate(-55 477.3 221.4)" stroke="#000" stroke-width="0.08">0h</text>
<rect x="480.7" y="184.44" width="4.6" height="31.96" fill="url(#chk2)" stroke="#000" stroke-width="0.85"/>
<line x1="483" y1="216.4" x2="483" y2="218" stroke="#000" stroke-width="0.8"/>
<text class="ss b" x="484.5" y="221.4" font-size="4.2" text-anchor="end" transform="rotate(-55 484.5 221.4)" stroke="#000" stroke-width="0.08">6h</text>
<rect x="488.1" y="168.12" width="4.6" height="48.28" fill="url(#chk2)" stroke="#000" stroke-width="0.85"/>
<line x1="490.4" y1="216.4" x2="490.4" y2="218" stroke="#000" stroke-width="0.8"/>
<text class="ss b" x="491.9" y="221.4" font-size="4.2" text-anchor="end" transform="rotate(-55 491.9 221.4)" stroke="#000" stroke-width="0.08">12h</text>
<rect x="495.4" y="194.48" width="4.4" height="21.92" fill="url(#chk2)" stroke="#000" stroke-width="0.85"/>
<line x1="497.6" y1="216.4" x2="497.6" y2="218" stroke="#000" stroke-width="0.8"/>
<text class="ss b" x="499.1" y="221.4" font-size="4.2" text-anchor="end" transform="rotate(-55 499.1 221.4)" stroke="#000" stroke-width="0.08">24h</text>
<text class="sf" x="474.2" y="156.2" font-size="6.1" text-anchor="middle">5T33vt</text>
<rect x="496.05" y="167.25" width="7.7" height="2.4" fill="#707070" stroke="#000" stroke-width="0.9" rx="0.25"/>
<text class="ss" x="505.7" y="169.5" font-size="3.3" fill="#333">GRP-78</text>
<rect x="496.05" y="173.05" width="7.7" height="2.4" fill="url(#chk2)" stroke="#000" stroke-width="0.9" rx="0.25"/>
<text class="ss" x="505.7" y="175.3" font-size="3.3" fill="#333">CHOP</text>
<text class="ss b" x="4.4" y="249.4" font-size="11">D</text>
<text class="sf" x="36.8" y="260" font-size="6" text-anchor="middle" textLength="28.8" lengthAdjust="spacingAndGlyphs">RPMI-8226</text>
<text class="sf" x="94.2" y="260" font-size="6" text-anchor="middle">MMS1</text>
<text class="sf" x="150.2" y="260.1" font-size="6.05" text-anchor="middle">5T33vt</text>
<text class="sf" x="19.6" y="275.1" font-size="6" text-anchor="middle">0</text>
<text class="sf" x="31.3" y="275.1" font-size="6" text-anchor="middle">6</text>
<text class="sf" x="43.7" y="275.1" font-size="6" text-anchor="middle">12</text>
<text class="sf" x="55.6" y="275.1" font-size="6" text-anchor="middle">24</text>
<text class="sf" x="76.2" y="275.1" font-size="6" text-anchor="middle">0</text>
<text class="sf" x="86.8" y="275.1" font-size="6" text-anchor="middle">6</text>
<text class="sf" x="99.2" y="275.1" font-size="6" text-anchor="middle">12</text>
<text class="sf" x="112.2" y="275.1" font-size="6" text-anchor="middle">24</text>
<text class="sf" x="134.7" y="275.1" font-size="6" text-anchor="middle">0</text>
<text class="sf" x="143.5" y="275.1" font-size="6" text-anchor="middle">6</text>
<text class="sf" x="155.9" y="275.1" font-size="6" text-anchor="middle">12</text>
<text class="sf" x="167.5" y="275.1" font-size="6" text-anchor="middle">24</text>
<text class="sf" x="175.6" y="275.1" font-size="6" text-anchor="middle">h</text>
<text class="sf" x="179.7" y="283.7" font-size="6.4" textLength="40.3" lengthAdjust="spacingAndGlyphs">p-eIF2α (36 kD)</text>
<text class="sf" x="179.7" y="299.2" font-size="6.4">ATF4</text>
<text class="sf" x="201.6" y="299.2" font-size="6.4" textLength="18.4" lengthAdjust="spacingAndGlyphs">(38 kD)</text>
<text class="sf" x="179.7" y="313.7" font-size="6.4">ATF3</text>
<text class="sf" x="201.6" y="313.7" font-size="6.4" textLength="18.4" lengthAdjust="spacingAndGlyphs">(21 kD)</text>
<text class="sf b" x="179.7" y="328.8" font-size="5.6" textLength="11.5" lengthAdjust="spacingAndGlyphs">actin</text>
<clipPath id="c10"><rect x="10.2" y="280.2" width="49.5" height="7.8"/></clipPath>
<g clip-path="url(#c10)">
<rect x="10.2" y="280.2" width="49.5" height="7.8" fill="#fbfbfb"/>
<g filter="url(#bl)">
<ellipse cx="29" cy="283.6" rx="4" ry="0.9" fill="#c4c4c4" opacity="1"/>
<ellipse cx="41.5" cy="284.6" rx="4.6" ry="1.1" fill="#9c9c9c" opacity="1"/>
<ellipse cx="53.5" cy="284.8" rx="3.6" ry="0.9" fill="#c8c8c8" opacity="1"/>
</g></g>
<rect x="10.2" y="280.2" width="49.5" height="7.8" fill="none" stroke="#000" stroke-width="0.9"/>
<clipPath id="c11"><rect x="10.2" y="293.3" width="49.5" height="8.3"/></clipPath>
<g clip-path="url(#c11)">
<rect x="10.2" y="293.3" width="49.5" height="8.3" fill="#efefef"/>
<g filter="url(#bl)">
<ellipse cx="19.2" cy="297.4" rx="2.8" ry="1.2" fill="#bbb" opacity="1"/>
<ellipse cx="30" cy="297.5" rx="5" ry="3.3" fill="#000" opacity="1"/>
<ellipse cx="41.4" cy="297.5" rx="5" ry="3.4" fill="#000" opacity="1"/>
<ellipse cx="52.8" cy="297.5" rx="5" ry="3.4" fill="#000" opacity="1"/>
<rect x="26.5" y="295.4" width="30.5" height="4.2" fill="#111" opacity="0.45"/>
</g></g>
<rect x="10.2" y="293.3" width="49.5" height="8.3" fill="none" stroke="#000" stroke-width="0.9"/>
<clipPath id="c12"><rect x="10.2" y="308.5" width="49.5" height="8.2"/></clipPath>
<g clip-path="url(#c12)">
<rect x="10.2" y="308.5" width="49.5" height="8.2" fill="#e2e2e2"/>
<g filter="url(#bl)">
<ellipse cx="17.4" cy="312.4" rx="4.2" ry="1.8" fill="#a0a0a0" opacity="1"/>
<ellipse cx="29.2" cy="313" rx="4.6" ry="2.5" fill="#6a6a6a" opacity="1"/>
<ellipse cx="40" cy="313.2" rx="4.6" ry="2.5" fill="#707070" opacity="1"/>
<ellipse cx="51.6" cy="313" rx="5" ry="2.5" fill="#777" opacity="1"/>
<rect x="13" y="311.2" width="44" height="3.4" fill="#999" opacity="0.6"/>
</g></g>
<rect x="10.2" y="308.5" width="49.5" height="8.2" fill="none" stroke="#000" stroke-width="0.9"/>
<clipPath id="c13"><rect x="10.2" y="323.4" width="49.5" height="8.2"/></clipPath>
<g clip-path="url(#c13)">
<rect x="10.2" y="323.4" width="49.5" height="8.2" fill="#f6f6f6"/>
<g filter="url(#bl)">
<rect x="9" y="322.6" width="52" height="5.6" fill="#000" opacity="1"/>
<ellipse cx="18" cy="326.8" rx="9" ry="2.8" fill="#000" opacity="1"/>
<ellipse cx="33" cy="327.4" rx="8" ry="2.7" fill="#000" opacity="1"/>
<ellipse cx="49" cy="328" rx="10" ry="2.7" fill="#000" opacity="1"/>
</g></g>
<rect x="10.2" y="323.4" width="49.5" height="8.2" fill="none" stroke="#000" stroke-width="0.9"/>
<clipPath id="c14"><rect x="69.1" y="280.2" width="48.6" height="7.8"/></clipPath>
<g clip-path="url(#c14)">
<rect x="69.1" y="280.2" width="48.6" height="7.8" fill="#c4c4c4"/>
<g filter="url(#bl)">
<ellipse cx="75.4" cy="283.6" rx="4.6" ry="1.5" fill="#333" opacity="1"/>
<ellipse cx="86.2" cy="283.9" rx="5.4" ry="2.1" fill="#050505" opacity="1"/>
<ellipse cx="98.4" cy="283.9" rx="6.8" ry="3.8" fill="#000" opacity="1"/>
<ellipse cx="98.4" cy="283.9" rx="5.6" ry="3" fill="#000" opacity="1"/>
<ellipse cx="110.2" cy="284.2" rx="4.8" ry="1.8" fill="#5a5a5a" opacity="1"/>
<rect x="78" y="283" width="16" height="1.8" fill="#111" opacity="0.8"/>
<rect x="69" y="280.2" width="20" height="1.2" fill="#888" opacity="0.8"/>
</g></g>
<rect x="69.1" y="280.2" width="48.6" height="7.8" fill="none" stroke="#000" stroke-width="0.9"/>
<clipPath id="c15"><rect x="69.1" y="293.3" width="48.6" height="8.3"/></clipPath>
<g clip-path="url(#c15)">
<rect x="69.1" y="293.3" width="48.6" height="8.3" fill="#f1f1f1"/>
<g filter="url(#bl)">
<ellipse cx="74.8" cy="298" rx="3.2" ry="1.2" fill="#c2c2c2" opacity="1"/>
<ellipse cx="86.8" cy="297.8" rx="3.9" ry="2" fill="#6e6e6e" opacity="1"/>
<ellipse cx="97.8" cy="297.6" rx="4.8" ry="2.6" fill="#0a0a0a" opacity="1"/>
<ellipse cx="109.6" cy="298" rx="4.4" ry="1.9" fill="#7c7c7c" opacity="1"/>
</g></g>
<rect x="69.1" y="293.3" width="48.6" height="8.3" fill="none" stroke="#000" stroke-width="0.9"/>
<clipPath id="c16"><rect x="69.1" y="308.5" width="48.6" height="8.2"/></clipPath>
<g clip-path="url(#c16)">
<rect x="69.1" y="308.5" width="48.6" height="8.2" fill="#f3f3f3"/>
<g filter="url(#bl)">
<ellipse cx="75" cy="313" rx="3.4" ry="1.2" fill="#dedede" opacity="1"/>
<ellipse cx="86" cy="312.8" rx="3.8" ry="1.4" fill="#d4d4d4" opacity="1"/>
<ellipse cx="97.6" cy="312.6" rx="4.6" ry="1.9" fill="#b2b2b2" opacity="1"/>
<ellipse cx="109.4" cy="312.8" rx="5" ry="2.2" fill="#8e8e8e" opacity="1"/>
</g></g>
<rect x="69.1" y="308.5" width="48.6" height="8.2" fill="none" stroke="#000" stroke-width="0.9"/>
<clipPath id="c17"><rect x="69.1" y="323.4" width="48.6" height="8.2"/></clipPath>
<g clip-path="url(#c17)">
<rect x="69.1" y="323.4" width="48.6" height="8.2" fill="#5a5a5a"/>
<g filter="url(#bl)">
<rect x="68" y="322.8" width="51" height="6.4" fill="#000" opacity="1"/>
<ellipse cx="76" cy="327" rx="6" ry="3" fill="#000" opacity="1"/>
<ellipse cx="88" cy="327" rx="6" ry="3" fill="#000" opacity="1"/>
<ellipse cx="99" cy="327.4" rx="6" ry="2.6" fill="#000" opacity="1"/>
<ellipse cx="110" cy="328" rx="6" ry="2.3" fill="#000" opacity="1"/>
<rect x="104" y="323.8" width="14" height="1.6" fill="#777" opacity="0.7"/>
<rect x="69" y="330.6" width="49" height="1.2" fill="#999" opacity="0.8"/>
</g></g>
<rect x="69.1" y="323.4" width="48.6" height="8.2" fill="none" stroke="#000" stroke-width="0.9"/>
<clipPath id="c18"><rect x="127.3" y="279.3" width="49.6" height="8"/></clipPath>
<g clip-path="url(#c18)">
<rect x="127.3" y="279.3" width="49.6" height="8" fill="#fafafa"/>
<g filter="url(#bl)">
<ellipse cx="134" cy="284.6" rx="3.2" ry="0.8" fill="#ddd" opacity="1"/>
<ellipse cx="156" cy="284.1" rx="4.2" ry="1" fill="#bdbdbd" opacity="1"/>
<ellipse cx="169.2" cy="282.9" rx="5.4" ry="1.3" fill="#8a8a8a" opacity="1"/>
</g></g>
<rect x="127.3" y="279.3" width="49.6" height="8" fill="none" stroke="#000" stroke-width="0.9"/>
<clipPath id="c19"><rect x="127.3" y="293.2" width="49.2" height="8.3"/></clipPath>
<g clip-path="url(#c19)">
<rect x="127.3" y="293.2" width="49.2" height="8.3" fill="#f0f0f0"/>
<g filter="url(#bl)">
<ellipse cx="133.4" cy="299.6" rx="4.2" ry="1" fill="#aaa" opacity="1"/>
<ellipse cx="145.3" cy="299.1" rx="5.2" ry="2.7" fill="#000" opacity="1"/>
<ellipse cx="155.6" cy="297.8" rx="5.2" ry="4" fill="#000" opacity="1"/>
<ellipse cx="167.8" cy="299.2" rx="5.8" ry="1.9" fill="#1c1c1c" opacity="1"/>
<rect x="141.5" y="297.8" width="28" height="3.6" fill="#000" opacity="0.9"/>
</g></g>
<rect x="127.3" y="293.2" width="49.2" height="8.3" fill="none" stroke="#000" stroke-width="0.9"/>
<clipPath id="c20"><rect x="127.3" y="308.1" width="49.2" height="8.2"/></clipPath>
<g clip-path="url(#c20)">
<rect x="127.3" y="308.1" width="49.2" height="8.2" fill="#fbfbfb"/>
<g filter="url(#bl)">
<ellipse cx="156" cy="312" rx="4.4" ry="1.2" fill="#dcdcdc" opacity="1"/>
<ellipse cx="169" cy="310.9" rx="5.6" ry="1.6" fill="#b0b0b0" opacity="1"/>
</g></g>
<rect x="127.3" y="308.1" width="49.2" height="8.2" fill="none" stroke="#000" stroke-width="0.9"/>
<clipPath id="c21"><rect x="127.5" y="323.5" width="48.9" height="8"/></clipPath>
<g clip-path="url(#c21)">
<rect x="127.5" y="323.5" width="48.9" height="8" fill="#0a0a0a"/>
<g filter="url(#bl)">
<ellipse cx="165" cy="325.2" rx="10" ry="1" fill="#555" opacity="0.8"/>
<ellipse cx="166" cy="330.6" rx="10" ry="0.9" fill="#444" opacity="0.8"/>
</g></g>
<line x1="251.3" y1="275.6" x2="251.3" y2="329.1" stroke="#000" stroke-width="1"/>
<line x1="250.9" y1="328.6" x2="318.2" y2="328.6" stroke="#000" stroke-width="1"/>
<line x1="249.1" y1="328.6" x2="251.3" y2="328.6" stroke="#000" stroke-width="0.8"/>
<text class="ss b" x="249.1" y="329.85" font-size="3.5" text-anchor="end" stroke="#000" stroke-width="0.22">0</text>
<line x1="249.1" y1="311.07" x2="251.3" y2="311.07" stroke="#000" stroke-width="0.8"/>
<text class="ss b" x="249.1" y="312.32" font-size="3.5" text-anchor="end" stroke="#000" stroke-width="0.22">100</text>
<line x1="249.1" y1="293.53" x2="251.3" y2="293.53" stroke="#000" stroke-width="0.8"/>
<text class="ss b" x="249.1" y="294.78" font-size="3.5" text-anchor="end" stroke="#000" stroke-width="0.22">200</text>
<line x1="249.1" y1="276" x2="251.3" y2="276" stroke="#000" stroke-width="0.8"/>
<text class="ss b" x="249.1" y="277.25" font-size="3.5" text-anchor="end" stroke="#000" stroke-width="0.22">300</text>
<text class="ss b" x="240.1" y="301.8" font-size="4.3" text-anchor="middle" transform="rotate(-90 240.1 301.8)" textLength="46" lengthAdjust="spacingAndGlyphs" stroke="#000" stroke-width="0.08">densitometric analysis</text>
<rect x="253.8" y="328.5" width="2.7" height="0.3" fill="#6c6c6c" stroke="#000" stroke-width="0.85"/>
<line x1="255.15" y1="328.6" x2="255.15" y2="330.2" stroke="#000" stroke-width="0.8"/>
<text class="ss b" x="256.35" y="333.8" font-size="3.3" text-anchor="end" transform="rotate(-55 256.35 333.8)" stroke="#000" stroke-width="0.08">0h</text>
<rect x="258.7" y="327.6" width="2.7" height="1" fill="#6c6c6c" stroke="#000" stroke-width="0.85"/>
<line x1="260.05" y1="328.6" x2="260.05" y2="330.2" stroke="#000" stroke-width="0.8"/>
<text class="ss b" x="261.25" y="333.8" font-size="3.3" text-anchor="end" transform="rotate(-55 261.25 333.8)" stroke="#000" stroke-width="0.08">6h</text>
<rect x="263.6" y="326.55" width="2.7" height="2.05" fill="#6c6c6c" stroke="#000" stroke-width="0.85"/>
<line x1="264.95" y1="328.6" x2="264.95" y2="330.2" stroke="#000" stroke-width="0.8"/>
<text class="ss b" x="266.15" y="333.8" font-size="3.3" text-anchor="end" transform="rotate(-55 266.15 333.8)" stroke="#000" stroke-width="0.08">12h</text>
<rect x="268.4" y="327.07" width="2.7" height="1.53" fill="#6c6c6c" stroke="#000" stroke-width="0.85"/>
<line x1="269.75" y1="328.6" x2="269.75" y2="330.2" stroke="#000" stroke-width="0.8"/>
<text class="ss b" x="270.95" y="333.8" font-size="3.3" text-anchor="end" transform="rotate(-55 270.95 333.8)" stroke="#000" stroke-width="0.08">24h</text>
<rect x="276.1" y="327.6" width="2.7" height="1" fill="url(#chk2)" stroke="#000" stroke-width="0.85"/>
<line x1="277.45" y1="328.6" x2="277.45" y2="330.2" stroke="#000" stroke-width="0.8"/>
<text class="ss b" x="278.65" y="333.8" font-size="3.3" text-anchor="end" transform="rotate(-55 278.65 333.8)" stroke="#000" stroke-width="0.08">0h</text>
<rect x="280.9" y="288.85" width="2.7" height="39.75" fill="url(#chk2)" stroke="#000" stroke-width="0.85"/>
<line x1="282.25" y1="328.6" x2="282.25" y2="330.2" stroke="#000" stroke-width="0.8"/>
<text class="ss b" x="283.45" y="333.8" font-size="3.3" text-anchor="end" transform="rotate(-55 283.45 333.8)" stroke="#000" stroke-width="0.08">6h</text>
<rect x="285.7" y="278.33" width="2.7" height="50.27" fill="url(#chk2)" stroke="#000" stroke-width="0.85"/>
<line x1="287.05" y1="328.6" x2="287.05" y2="330.2" stroke="#000" stroke-width="0.8"/>
<text class="ss b" x="288.25" y="333.8" font-size="3.3" text-anchor="end" transform="rotate(-55 288.25 333.8)" stroke="#000" stroke-width="0.08">12h</text>
<rect x="290.5" y="283.06" width="2.7" height="45.54" fill="url(#chk2)" stroke="#000" stroke-width="0.85"/>
<line x1="291.85" y1="328.6" x2="291.85" y2="330.2" stroke="#000" stroke-width="0.8"/>
<text class="ss b" x="293.05" y="333.8" font-size="3.3" text-anchor="end" transform="rotate(-55 293.05 333.8)" stroke="#000" stroke-width="0.08">24h</text>
<rect x="298.4" y="325.67" width="2.8" height="2.93" fill="url(#vl)" stroke="#000" stroke-width="0.85"/>
<line x1="299.8" y1="328.6" x2="299.8" y2="330.2" stroke="#000" stroke-width="0.8"/>
<text class="ss b" x="301" y="333.8" font-size="3.3" text-anchor="end" transform="rotate(-55 301 333.8)" stroke="#000" stroke-width="0.08">0h</text>
<rect x="303.5" y="307.96" width="2.7" height="20.64" fill="url(#vl)" stroke="#000" stroke-width="0.85"/>
<line x1="304.85" y1="328.6" x2="304.85" y2="330.2" stroke="#000" stroke-width="0.8"/>
<text class="ss b" x="306.05" y="333.8" font-size="3.3" text-anchor="end" transform="rotate(-55 306.05 333.8)" stroke="#000" stroke-width="0.08">6h</text>
<rect x="308.4" y="312.17" width="2.7" height="16.43" fill="url(#vl)" stroke="#000" stroke-width="0.85"/>
<line x1="309.75" y1="328.6" x2="309.75" y2="330.2" stroke="#000" stroke-width="0.8"/>
<text class="ss b" x="310.95" y="333.8" font-size="3.3" text-anchor="end" transform="rotate(-55 310.95 333.8)" stroke="#000" stroke-width="0.08">12h</text>
<rect x="313.2" y="313.75" width="2.7" height="14.85" fill="url(#vl)" stroke="#000" stroke-width="0.85"/>
<line x1="314.55" y1="328.6" x2="314.55" y2="330.2" stroke="#000" stroke-width="0.8"/>
<text class="ss b" x="315.75" y="333.8" font-size="3.3" text-anchor="end" transform="rotate(-55 315.75 333.8)" stroke="#000" stroke-width="0.08">24h</text>
<text class="sf" x="292" y="260.7" font-size="6.1" text-anchor="middle">RPMI-8226</text>
<rect x="299.55" y="278.65" width="7.8" height="2.4" fill="#6c6c6c" stroke="#000" stroke-width="0.9" rx="0.25"/>
<text class="ss" x="309.7" y="280.9" font-size="3.3" fill="#333">p-eIF2α</text>
<rect x="299.55" y="284.75" width="7.8" height="2.4" fill="url(#chk2)" stroke="#000" stroke-width="0.9" rx="0.25"/>
<text class="ss" x="309.7" y="287" font-size="3.3" fill="#333">ATF4</text>
<rect x="299.55" y="290.95" width="7.8" height="2.4" fill="url(#vl)" stroke="#000" stroke-width="0.9" rx="0.25"/>
<text class="ss" x="309.7" y="293.2" font-size="3.3" fill="#333">ATF3</text>
<line x1="345.5" y1="274.4" x2="345.5" y2="327.8" stroke="#000" stroke-width="1"/>
<line x1="345.1" y1="327.3" x2="413.2" y2="327.3" stroke="#000" stroke-width="1"/>
<line x1="343.3" y1="327.3" x2="345.5" y2="327.3" stroke="#000" stroke-width="0.8"/>
<text class="ss b" x="343.3" y="328.55" font-size="3.5" text-anchor="end" stroke="#000" stroke-width="0.22">0</text>
<line x1="343.3" y1="319.8" x2="345.5" y2="319.8" stroke="#000" stroke-width="0.8"/>
<text class="ss b" x="343.3" y="321.05" font-size="3.5" text-anchor="end" stroke="#000" stroke-width="0.22">50</text>
<line x1="343.3" y1="312.3" x2="345.5" y2="312.3" stroke="#000" stroke-width="0.8"/>
<text class="ss b" x="343.3" y="313.55" font-size="3.5" text-anchor="end" stroke="#000" stroke-width="0.22">100</text>
<line x1="343.3" y1="304.8" x2="345.5" y2="304.8" stroke="#000" stroke-width="0.8"/>
<text class="ss b" x="343.3" y="306.05" font-size="3.5" text-anchor="end" stroke="#000" stroke-width="0.22">150</text>
<line x1="343.3" y1="297.3" x2="345.5" y2="297.3" stroke="#000" stroke-width="0.8"/>
<text class="ss b" x="343.3" y="298.55" font-size="3.5" text-anchor="end" stroke="#000" stroke-width="0.22">200</text>
<line x1="343.3" y1="289.8" x2="345.5" y2="289.8" stroke="#000" stroke-width="0.8"/>
<text class="ss b" x="343.3" y="291.05" font-size="3.5" text-anchor="end" stroke="#000" stroke-width="0.22">250</text>
<line x1="343.3" y1="282.3" x2="345.5" y2="282.3" stroke="#000" stroke-width="0.8"/>
<text class="ss b" x="343.3" y="283.55" font-size="3.5" text-anchor="end" stroke="#000" stroke-width="0.22">300</text>
<line x1="343.3" y1="274.8" x2="345.5" y2="274.8" stroke="#000" stroke-width="0.8"/>
<text class="ss b" x="343.3" y="276.05" font-size="3.5" text-anchor="end" stroke="#000" stroke-width="0.22">350</text>
<text class="ss b" x="334.7" y="300.8" font-size="4.3" text-anchor="middle" transform="rotate(-90 334.7 300.8)" textLength="46" lengthAdjust="spacingAndGlyphs" stroke="#000" stroke-width="0.08">densitometric analysis</text>
<rect x="348.5" y="324.85" width="2.7" height="2.45" fill="#6c6c6c" stroke="#000" stroke-width="0.85"/>
<line x1="349.85" y1="327.3" x2="349.85" y2="328.9" stroke="#000" stroke-width="0.8"/>
<text class="ss b" x="351.05" y="332.5" font-size="3.3" text-anchor="end" transform="rotate(-55 351.05 332.5)" stroke="#000" stroke-width="0.08">0h</text>
<rect x="353" y="309.85" width="2.8" height="17.45" fill="#6c6c6c" stroke="#000" stroke-width="0.85"/>
<line x1="354.4" y1="327.3" x2="354.4" y2="328.9" stroke="#000" stroke-width="0.8"/>
<text class="ss b" x="355.6" y="332.5" font-size="3.3" text-anchor="end" transform="rotate(-55 355.6 332.5)" stroke="#000" stroke-width="0.08">6h</text>
<rect x="357.8" y="280" width="2.9" height="47.3" fill="#6c6c6c" stroke="#000" stroke-width="0.85"/>
<line x1="359.25" y1="327.3" x2="359.25" y2="328.9" stroke="#000" stroke-width="0.8"/>
<text class="ss b" x="360.45" y="332.5" font-size="3.3" text-anchor="end" transform="rotate(-55 360.45 332.5)" stroke="#000" stroke-width="0.08">12h</text>
<rect x="362.6" y="318.55" width="2.8" height="8.75" fill="#6c6c6c" stroke="#000" stroke-width="0.85"/>
<line x1="364" y1="327.3" x2="364" y2="328.9" stroke="#000" stroke-width="0.8"/>
<text class="ss b" x="365.2" y="332.5" font-size="3.3" text-anchor="end" transform="rotate(-55 365.2 332.5)" stroke="#000" stroke-width="0.08">24h</text>
<rect x="371" y="325.75" width="2.7" height="1.55" fill="url(#chk2)" stroke="#000" stroke-width="0.85"/>
<line x1="372.35" y1="327.3" x2="372.35" y2="328.9" stroke="#000" stroke-width="0.8"/>
<text class="ss b" x="373.55" y="332.5" font-size="3.3" text-anchor="end" transform="rotate(-55 373.55 332.5)" stroke="#000" stroke-width="0.08">0h</text>
<rect x="375.8" y="314.65" width="2.7" height="12.65" fill="url(#chk2)" stroke="#000" stroke-width="0.85"/>
<line x1="377.15" y1="327.3" x2="377.15" y2="328.9" stroke="#000" stroke-width="0.8"/>
<text class="ss b" x="378.35" y="332.5" font-size="3.3" text-anchor="end" transform="rotate(-55 378.35 332.5)" stroke="#000" stroke-width="0.08">6h</text>
<rect x="380.6" y="300.85" width="2.7" height="26.45" fill="url(#chk2)" stroke="#000" stroke-width="0.85"/>
<line x1="381.95" y1="327.3" x2="381.95" y2="328.9" stroke="#000" stroke-width="0.8"/>
<text class="ss b" x="383.15" y="332.5" font-size="3.3" text-anchor="end" transform="rotate(-55 383.15 332.5)" stroke="#000" stroke-width="0.08">12h</text>
<rect x="385.4" y="314.95" width="2.7" height="12.35" fill="url(#chk2)" stroke="#000" stroke-width="0.85"/>
<line x1="386.75" y1="327.3" x2="386.75" y2="328.9" stroke="#000" stroke-width="0.8"/>
<text class="ss b" x="387.95" y="332.5" font-size="3.3" text-anchor="end" transform="rotate(-55 387.95 332.5)" stroke="#000" stroke-width="0.08">24h</text>
<rect x="393.6" y="326.2" width="2.8" height="1.1" fill="url(#vl)" stroke="#000" stroke-width="0.85"/>
<line x1="395" y1="327.3" x2="395" y2="328.9" stroke="#000" stroke-width="0.8"/>
<text class="ss b" x="396.2" y="332.5" font-size="3.3" text-anchor="end" transform="rotate(-55 396.2 332.5)" stroke="#000" stroke-width="0.08">0h</text>
<rect x="398.4" y="325.6" width="2.8" height="1.7" fill="url(#vl)" stroke="#000" stroke-width="0.85"/>
<line x1="399.8" y1="327.3" x2="399.8" y2="328.9" stroke="#000" stroke-width="0.8"/>
<text class="ss b" x="401" y="332.5" font-size="3.3" text-anchor="end" transform="rotate(-55 401 332.5)" stroke="#000" stroke-width="0.08">6h</text>
<rect x="403.2" y="322" width="2.8" height="5.3" fill="url(#vl)" stroke="#000" stroke-width="0.85"/>
<line x1="404.6" y1="327.3" x2="404.6" y2="328.9" stroke="#000" stroke-width="0.8"/>
<text class="ss b" x="405.8" y="332.5" font-size="3.3" text-anchor="end" transform="rotate(-55 405.8 332.5)" stroke="#000" stroke-width="0.08">12h</text>
<rect x="407.8" y="310.75" width="2.8" height="16.55" fill="url(#vl)" stroke="#000" stroke-width="0.85"/>
<line x1="409.2" y1="327.3" x2="409.2" y2="328.9" stroke="#000" stroke-width="0.8"/>
<text class="ss b" x="410.4" y="332.5" font-size="3.3" text-anchor="end" transform="rotate(-55 410.4 332.5)" stroke="#000" stroke-width="0.08">24h</text>
<text class="sf" x="382.1" y="260.7" font-size="6.1" text-anchor="middle">MMS1</text>
<rect x="392.05" y="278.65" width="7.8" height="2.4" fill="#6c6c6c" stroke="#000" stroke-width="0.9" rx="0.25"/>
<text class="ss" x="402.2" y="280.9" font-size="3.3" fill="#333">p-eIF2α</text>
<rect x="392.05" y="284.75" width="7.8" height="2.4" fill="url(#chk2)" stroke="#000" stroke-width="0.9" rx="0.25"/>
<text class="ss" x="402.2" y="287" font-size="3.3" fill="#333">ATF4</text>
<rect x="392.05" y="290.95" width="7.8" height="2.4" fill="url(#vl)" stroke="#000" stroke-width="0.9" rx="0.25"/>
<text class="ss" x="402.2" y="293.2" font-size="3.3" fill="#333">ATF3</text>
<line x1="437.5" y1="274.4" x2="437.5" y2="327.8" stroke="#000" stroke-width="1"/>
<line x1="437.1" y1="327.3" x2="505.3" y2="327.3" stroke="#000" stroke-width="1"/>
<line x1="435.3" y1="327.3" x2="437.5" y2="327.3" stroke="#000" stroke-width="0.8"/>
<text class="ss b" x="435.3" y="328.55" font-size="3.5" text-anchor="end" stroke="#000" stroke-width="0.22">0</text>
<line x1="435.3" y1="321.47" x2="437.5" y2="321.47" stroke="#000" stroke-width="0.8"/>
<text class="ss b" x="435.3" y="322.72" font-size="3.5" text-anchor="end" stroke="#000" stroke-width="0.22">25</text>
<line x1="435.3" y1="315.63" x2="437.5" y2="315.63" stroke="#000" stroke-width="0.8"/>
<text class="ss b" x="435.3" y="316.88" font-size="3.5" text-anchor="end" stroke="#000" stroke-width="0.22">50</text>
<line x1="435.3" y1="309.8" x2="437.5" y2="309.8" stroke="#000" stroke-width="0.8"/>
<text class="ss b" x="435.3" y="311.05" font-size="3.5" text-anchor="end" stroke="#000" stroke-width="0.22">75</text>
<line x1="435.3" y1="303.97" x2="437.5" y2="303.97" stroke="#000" stroke-width="0.8"/>
<text class="ss b" x="435.3" y="305.22" font-size="3.5" text-anchor="end" stroke="#000" stroke-width="0.22">100</text>
<line x1="435.3" y1="298.13" x2="437.5" y2="298.13" stroke="#000" stroke-width="0.8"/>
<text class="ss b" x="435.3" y="299.38" font-size="3.5" text-anchor="end" stroke="#000" stroke-width="0.22">125</text>
<line x1="435.3" y1="292.3" x2="437.5" y2="292.3" stroke="#000" stroke-width="0.8"/>
<text class="ss b" x="435.3" y="293.55" font-size="3.5" text-anchor="end" stroke="#000" stroke-width="0.22">150</text>
<line x1="435.3" y1="286.47" x2="437.5" y2="286.47" stroke="#000" stroke-width="0.8"/>
<text class="ss b" x="435.3" y="287.72" font-size="3.5" text-anchor="end" stroke="#000" stroke-width="0.22">175</text>
<line x1="435.3" y1="280.63" x2="437.5" y2="280.63" stroke="#000" stroke-width="0.8"/>
<text class="ss b" x="435.3" y="281.88" font-size="3.5" text-anchor="end" stroke="#000" stroke-width="0.22">200</text>
<line x1="435.3" y1="274.8" x2="437.5" y2="274.8" stroke="#000" stroke-width="0.8"/>
<text class="ss b" x="435.3" y="276.05" font-size="3.5" text-anchor="end" stroke="#000" stroke-width="0.22">225</text>
<text class="ss b" x="426.8" y="300.3" font-size="4.3" text-anchor="middle" transform="rotate(-90 426.8 300.3)" textLength="47" lengthAdjust="spacingAndGlyphs" stroke="#000" stroke-width="0.08">densitometric analysis</text>
<rect x="440.6" y="324.2" width="2.8" height="3.1" fill="#6c6c6c" stroke="#000" stroke-width="0.85"/>
<line x1="442" y1="327.3" x2="442" y2="328.9" stroke="#000" stroke-width="0.8"/>
<text class="ss b" x="443.2" y="332.5" font-size="3.3" text-anchor="end" transform="rotate(-55 443.2 332.5)" stroke="#000" stroke-width="0.08">0h</text>
<rect x="445.4" y="324.2" width="2.8" height="3.1" fill="#6c6c6c" stroke="#000" stroke-width="0.85"/>
<line x1="446.8" y1="327.3" x2="446.8" y2="328.9" stroke="#000" stroke-width="0.8"/>
<text class="ss b" x="448" y="332.5" font-size="3.3" text-anchor="end" transform="rotate(-55 448 332.5)" stroke="#000" stroke-width="0.08">6h</text>
<rect x="449.9" y="315.1" width="2.8" height="12.2" fill="#6c6c6c" stroke="#000" stroke-width="0.85"/>
<line x1="451.3" y1="327.3" x2="451.3" y2="328.9" stroke="#000" stroke-width="0.8"/>
<text class="ss b" x="452.5" y="332.5" font-size="3.3" text-anchor="end" transform="rotate(-55 452.5 332.5)" stroke="#000" stroke-width="0.08">12h</text>
<rect x="454.7" y="300.17" width="2.8" height="27.13" fill="#6c6c6c" stroke="#000" stroke-width="0.85"/>
<line x1="456.1" y1="327.3" x2="456.1" y2="328.9" stroke="#000" stroke-width="0.8"/>
<text class="ss b" x="457.3" y="332.5" font-size="3.3" text-anchor="end" transform="rotate(-55 457.3 332.5)" stroke="#000" stroke-width="0.08">24h</text>
<rect x="463.1" y="323.27" width="2.7" height="4.03" fill="url(#chk2)" stroke="#000" stroke-width="0.85"/>
<line x1="464.45" y1="327.3" x2="464.45" y2="328.9" stroke="#000" stroke-width="0.8"/>
<text class="ss b" x="465.65" y="332.5" font-size="3.3" text-anchor="end" transform="rotate(-55 465.65 332.5)" stroke="#000" stroke-width="0.08">0h</text>
<rect x="467.9" y="288.73" width="2.7" height="38.57" fill="url(#chk2)" stroke="#000" stroke-width="0.85"/>
<line x1="469.25" y1="327.3" x2="469.25" y2="328.9" stroke="#000" stroke-width="0.8"/>
<text class="ss b" x="470.45" y="332.5" font-size="3.3" text-anchor="end" transform="rotate(-55 470.45 332.5)" stroke="#000" stroke-width="0.08">6h</text>
<rect x="472.7" y="280.1" width="2.7" height="47.2" fill="url(#chk2)" stroke="#000" stroke-width="0.85"/>
<line x1="474.05" y1="327.3" x2="474.05" y2="328.9" stroke="#000" stroke-width="0.8"/>
<text class="ss b" x="475.25" y="332.5" font-size="3.3" text-anchor="end" transform="rotate(-55 475.25 332.5)" stroke="#000" stroke-width="0.08">12h</text>
<rect x="477.5" y="293.17" width="2.7" height="34.13" fill="url(#chk2)" stroke="#000" stroke-width="0.85"/>
<line x1="478.85" y1="327.3" x2="478.85" y2="328.9" stroke="#000" stroke-width="0.8"/>
<text class="ss b" x="480.05" y="332.5" font-size="3.3" text-anchor="end" transform="rotate(-55 480.05 332.5)" stroke="#000" stroke-width="0.08">24h</text>
<rect x="485.7" y="326.77" width="2.8" height="0.53" fill="url(#vl)" stroke="#000" stroke-width="0.85"/>
<line x1="487.1" y1="327.3" x2="487.1" y2="328.9" stroke="#000" stroke-width="0.8"/>
<text class="ss b" x="488.3" y="332.5" font-size="3.3" text-anchor="end" transform="rotate(-55 488.3 332.5)" stroke="#000" stroke-width="0.08">0h</text>
<rect x="490.3" y="326.77" width="2.8" height="0.53" fill="url(#vl)" stroke="#000" stroke-width="0.85"/>
<line x1="491.7" y1="327.3" x2="491.7" y2="328.9" stroke="#000" stroke-width="0.8"/>
<text class="ss b" x="492.9" y="332.5" font-size="3.3" text-anchor="end" transform="rotate(-55 492.9 332.5)" stroke="#000" stroke-width="0.08">6h</text>
<rect x="495.1" y="324.2" width="2.8" height="3.1" fill="url(#vl)" stroke="#000" stroke-width="0.85"/>
<line x1="496.5" y1="327.3" x2="496.5" y2="328.9" stroke="#000" stroke-width="0.8"/>
<text class="ss b" x="497.7" y="332.5" font-size="3.3" text-anchor="end" transform="rotate(-55 497.7 332.5)" stroke="#000" stroke-width="0.08">12h</text>
<rect x="499.9" y="308.33" width="2.8" height="18.97" fill="url(#vl)" stroke="#000" stroke-width="0.85"/>
<line x1="501.3" y1="327.3" x2="501.3" y2="328.9" stroke="#000" stroke-width="0.8"/>
<text class="ss b" x="502.5" y="332.5" font-size="3.3" text-anchor="end" transform="rotate(-55 502.5 332.5)" stroke="#000" stroke-width="0.08">24h</text>
<text class="sf" x="472.3" y="260.7" font-size="6.1" text-anchor="middle">5T33vt</text>
<rect x="486.45" y="278.65" width="7.8" height="2.4" fill="#6c6c6c" stroke="#000" stroke-width="0.9" rx="0.25"/>
<text class="ss" x="496.6" y="280.9" font-size="3.3" fill="#333">p-eIF2α</text>
<rect x="486.45" y="284.75" width="7.8" height="2.4" fill="url(#chk2)" stroke="#000" stroke-width="0.9" rx="0.25"/>
<text class="ss" x="496.6" y="287" font-size="3.3" fill="#333">ATF4</text>
<rect x="486.45" y="290.95" width="7.8" height="2.4" fill="url(#vl)" stroke="#000" stroke-width="0.9" rx="0.25"/>
<text class="ss" x="496.6" y="293.2" font-size="3.3" fill="#333">ATF3</text>
</svg>
</body></html>
